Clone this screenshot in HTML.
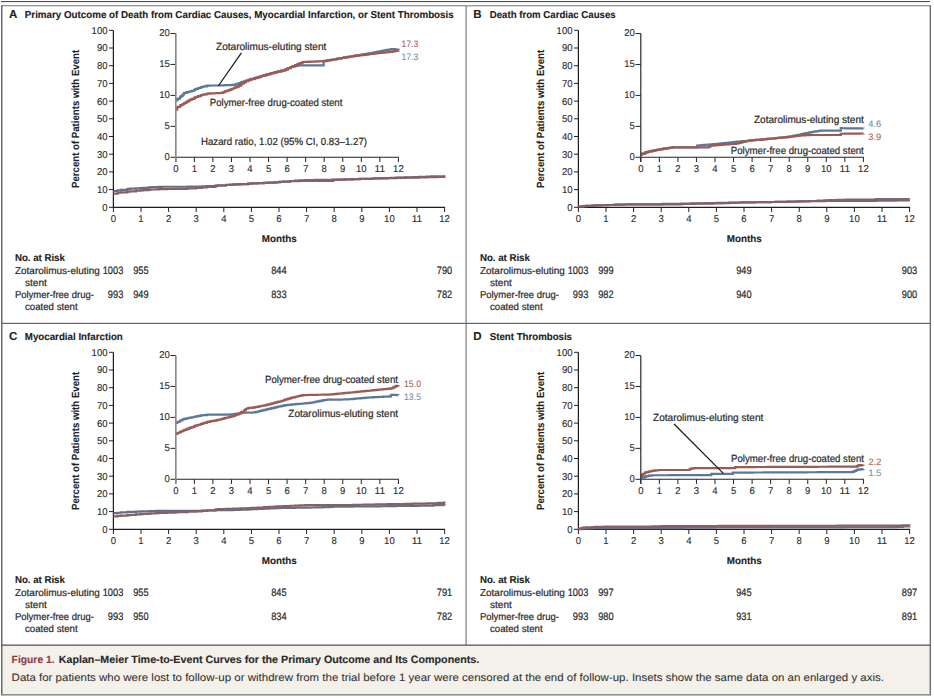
<!DOCTYPE html>
<html><head><meta charset="utf-8"><title>Figure 1</title>
<style>html,body{margin:0;padding:0;background:#fff;width:934px;height:699px;overflow:hidden;position:relative}</style>
</head><body>
<svg width="934" height="699" viewBox="0 0 934 699" style="position:absolute;left:0;top:0;font-family:'Liberation Sans', sans-serif" text-rendering="geometricPrecision">
<rect x="0.00" y="0.00" width="934.00" height="699.00" fill="#ffffff"/>
<rect x="2.00" y="645.50" width="928.00" height="48.80" fill="#f4f0ea"/>
<rect x="1.00" y="1.00" width="929.00" height="1.10" fill="#4a4a4a"/>
<rect x="1.00" y="5.00" width="930.00" height="1.40" fill="#9a9a9a"/>
<rect x="1.00" y="5.50" width="1.50" height="689.50" fill="#6a6a6a"/>
<rect x="929.60" y="5.50" width="1.40" height="689.50" fill="#6e6e6e"/>
<rect x="1.00" y="694.20" width="930.00" height="1.30" fill="#777777"/>
<rect x="465.50" y="6.00" width="1.20" height="639.00" fill="#7a7a7a"/>
<rect x="2.00" y="322.80" width="928.00" height="1.20" fill="#666666"/>
<rect x="2.00" y="644.50" width="928.00" height="1.30" fill="#555555"/>
<text x="9.00" y="17.60" font-size="11.5" font-weight="bold" text-anchor="start" fill="#222" stroke="#222" stroke-width="0.12">A</text>
<text x="24.80" y="17.60" font-size="10.1" font-weight="bold" text-anchor="start" fill="#222" stroke="#222" stroke-width="0.12" textLength="428.90" lengthAdjust="spacingAndGlyphs">Primary Outcome of Death from Cardiac Causes, Myocardial Infarction, or Stent Thrombosis</text>
<line x1="113.40" y1="30.30" x2="113.40" y2="207.80" stroke="#1e1e1e" stroke-width="1.25"/>
<line x1="112.90" y1="207.30" x2="445.10" y2="207.30" stroke="#1e1e1e" stroke-width="1.25"/>
<line x1="109.00" y1="207.30" x2="113.40" y2="207.30" stroke="#222" stroke-width="1.0"/>
<text x="107.50" y="210.75" font-size="9.9" font-weight="normal" text-anchor="end" fill="#2b2b2b" stroke="#2b2b2b" stroke-width="0.12" textLength="5.30" lengthAdjust="spacingAndGlyphs">0</text>
<line x1="109.00" y1="189.60" x2="113.40" y2="189.60" stroke="#222" stroke-width="1.0"/>
<text x="107.50" y="193.05" font-size="9.9" font-weight="normal" text-anchor="end" fill="#2b2b2b" stroke="#2b2b2b" stroke-width="0.12" textLength="10.60" lengthAdjust="spacingAndGlyphs">10</text>
<line x1="109.00" y1="171.90" x2="113.40" y2="171.90" stroke="#222" stroke-width="1.0"/>
<text x="107.50" y="175.35" font-size="9.9" font-weight="normal" text-anchor="end" fill="#2b2b2b" stroke="#2b2b2b" stroke-width="0.12" textLength="10.60" lengthAdjust="spacingAndGlyphs">20</text>
<line x1="109.00" y1="154.20" x2="113.40" y2="154.20" stroke="#222" stroke-width="1.0"/>
<text x="107.50" y="157.65" font-size="9.9" font-weight="normal" text-anchor="end" fill="#2b2b2b" stroke="#2b2b2b" stroke-width="0.12" textLength="10.60" lengthAdjust="spacingAndGlyphs">30</text>
<line x1="109.00" y1="136.50" x2="113.40" y2="136.50" stroke="#222" stroke-width="1.0"/>
<text x="107.50" y="139.95" font-size="9.9" font-weight="normal" text-anchor="end" fill="#2b2b2b" stroke="#2b2b2b" stroke-width="0.12" textLength="10.60" lengthAdjust="spacingAndGlyphs">40</text>
<line x1="109.00" y1="118.80" x2="113.40" y2="118.80" stroke="#222" stroke-width="1.0"/>
<text x="107.50" y="122.25" font-size="9.9" font-weight="normal" text-anchor="end" fill="#2b2b2b" stroke="#2b2b2b" stroke-width="0.12" textLength="10.60" lengthAdjust="spacingAndGlyphs">50</text>
<line x1="109.00" y1="101.10" x2="113.40" y2="101.10" stroke="#222" stroke-width="1.0"/>
<text x="107.50" y="104.55" font-size="9.9" font-weight="normal" text-anchor="end" fill="#2b2b2b" stroke="#2b2b2b" stroke-width="0.12" textLength="10.60" lengthAdjust="spacingAndGlyphs">60</text>
<line x1="109.00" y1="83.40" x2="113.40" y2="83.40" stroke="#222" stroke-width="1.0"/>
<text x="107.50" y="86.85" font-size="9.9" font-weight="normal" text-anchor="end" fill="#2b2b2b" stroke="#2b2b2b" stroke-width="0.12" textLength="10.60" lengthAdjust="spacingAndGlyphs">70</text>
<line x1="109.00" y1="65.70" x2="113.40" y2="65.70" stroke="#222" stroke-width="1.0"/>
<text x="107.50" y="69.15" font-size="9.9" font-weight="normal" text-anchor="end" fill="#2b2b2b" stroke="#2b2b2b" stroke-width="0.12" textLength="10.60" lengthAdjust="spacingAndGlyphs">80</text>
<line x1="109.00" y1="48.00" x2="113.40" y2="48.00" stroke="#222" stroke-width="1.0"/>
<text x="107.50" y="51.45" font-size="9.9" font-weight="normal" text-anchor="end" fill="#2b2b2b" stroke="#2b2b2b" stroke-width="0.12" textLength="10.60" lengthAdjust="spacingAndGlyphs">90</text>
<line x1="109.00" y1="30.30" x2="113.40" y2="30.30" stroke="#222" stroke-width="1.0"/>
<text x="107.50" y="33.75" font-size="9.9" font-weight="normal" text-anchor="end" fill="#2b2b2b" stroke="#2b2b2b" stroke-width="0.12" textLength="15.90" lengthAdjust="spacingAndGlyphs">100</text>
<line x1="113.40" y1="207.30" x2="113.40" y2="212.00" stroke="#222" stroke-width="1.0"/>
<text x="113.40" y="221.90" font-size="9.9" font-weight="normal" text-anchor="middle" fill="#2b2b2b" stroke="#2b2b2b" stroke-width="0.12" textLength="5.30" lengthAdjust="spacingAndGlyphs">0</text>
<line x1="141.00" y1="207.30" x2="141.00" y2="212.00" stroke="#222" stroke-width="1.0"/>
<text x="141.00" y="221.90" font-size="9.9" font-weight="normal" text-anchor="middle" fill="#2b2b2b" stroke="#2b2b2b" stroke-width="0.12" textLength="5.30" lengthAdjust="spacingAndGlyphs">1</text>
<line x1="168.60" y1="207.30" x2="168.60" y2="212.00" stroke="#222" stroke-width="1.0"/>
<text x="168.60" y="221.90" font-size="9.9" font-weight="normal" text-anchor="middle" fill="#2b2b2b" stroke="#2b2b2b" stroke-width="0.12" textLength="5.30" lengthAdjust="spacingAndGlyphs">2</text>
<line x1="196.20" y1="207.30" x2="196.20" y2="212.00" stroke="#222" stroke-width="1.0"/>
<text x="196.20" y="221.90" font-size="9.9" font-weight="normal" text-anchor="middle" fill="#2b2b2b" stroke="#2b2b2b" stroke-width="0.12" textLength="5.30" lengthAdjust="spacingAndGlyphs">3</text>
<line x1="223.80" y1="207.30" x2="223.80" y2="212.00" stroke="#222" stroke-width="1.0"/>
<text x="223.80" y="221.90" font-size="9.9" font-weight="normal" text-anchor="middle" fill="#2b2b2b" stroke="#2b2b2b" stroke-width="0.12" textLength="5.30" lengthAdjust="spacingAndGlyphs">4</text>
<line x1="251.40" y1="207.30" x2="251.40" y2="212.00" stroke="#222" stroke-width="1.0"/>
<text x="251.40" y="221.90" font-size="9.9" font-weight="normal" text-anchor="middle" fill="#2b2b2b" stroke="#2b2b2b" stroke-width="0.12" textLength="5.30" lengthAdjust="spacingAndGlyphs">5</text>
<line x1="279.00" y1="207.30" x2="279.00" y2="212.00" stroke="#222" stroke-width="1.0"/>
<text x="279.00" y="221.90" font-size="9.9" font-weight="normal" text-anchor="middle" fill="#2b2b2b" stroke="#2b2b2b" stroke-width="0.12" textLength="5.30" lengthAdjust="spacingAndGlyphs">6</text>
<line x1="306.60" y1="207.30" x2="306.60" y2="212.00" stroke="#222" stroke-width="1.0"/>
<text x="306.60" y="221.90" font-size="9.9" font-weight="normal" text-anchor="middle" fill="#2b2b2b" stroke="#2b2b2b" stroke-width="0.12" textLength="5.30" lengthAdjust="spacingAndGlyphs">7</text>
<line x1="334.20" y1="207.30" x2="334.20" y2="212.00" stroke="#222" stroke-width="1.0"/>
<text x="334.20" y="221.90" font-size="9.9" font-weight="normal" text-anchor="middle" fill="#2b2b2b" stroke="#2b2b2b" stroke-width="0.12" textLength="5.30" lengthAdjust="spacingAndGlyphs">8</text>
<line x1="361.80" y1="207.30" x2="361.80" y2="212.00" stroke="#222" stroke-width="1.0"/>
<text x="361.80" y="221.90" font-size="9.9" font-weight="normal" text-anchor="middle" fill="#2b2b2b" stroke="#2b2b2b" stroke-width="0.12" textLength="5.30" lengthAdjust="spacingAndGlyphs">9</text>
<line x1="389.40" y1="207.30" x2="389.40" y2="212.00" stroke="#222" stroke-width="1.0"/>
<text x="389.40" y="221.90" font-size="9.9" font-weight="normal" text-anchor="middle" fill="#2b2b2b" stroke="#2b2b2b" stroke-width="0.12" textLength="10.60" lengthAdjust="spacingAndGlyphs">10</text>
<line x1="417.00" y1="207.30" x2="417.00" y2="212.00" stroke="#222" stroke-width="1.0"/>
<text x="417.00" y="221.90" font-size="9.9" font-weight="normal" text-anchor="middle" fill="#2b2b2b" stroke="#2b2b2b" stroke-width="0.12" textLength="10.60" lengthAdjust="spacingAndGlyphs">11</text>
<line x1="444.60" y1="207.30" x2="444.60" y2="212.00" stroke="#222" stroke-width="1.0"/>
<text x="444.60" y="221.90" font-size="9.9" font-weight="normal" text-anchor="middle" fill="#2b2b2b" stroke="#2b2b2b" stroke-width="0.12" textLength="10.60" lengthAdjust="spacingAndGlyphs">12</text>
<text x="0" y="0" font-size="10.4" font-weight="bold" fill="#222" stroke="#222" stroke-width="0.1" text-anchor="middle" textLength="138" lengthAdjust="spacingAndGlyphs" transform="translate(79.00,118.90) rotate(-90)">Percent of Patients with Event</text>
<text x="261.70" y="242.20" font-size="10" font-weight="bold" text-anchor="start" fill="#222" stroke="#222" stroke-width="0.12" textLength="35.00" lengthAdjust="spacingAndGlyphs">Months</text>
<path d="M113.40,191.02 H117.75 V190.34 H120.96 V189.78 H127.48 V188.82 H130.17 V188.68 H135.93 V188.38 H140.56 V188.01 H143.15 V187.79 H148.72 V187.32 H151.17 V187.21 H156.25 V187.00 H158.92 V186.88 H161.73 V186.77 H166.75 V186.77 H174.44 V186.77 H177.47 V186.76 H181.15 V186.74 H187.52 V186.69 H196.00 V186.62 H202.03 V186.45 H206.87 V186.09 H215.54 V185.53 H218.06 V185.37 H225.96 V184.88 H230.08 V184.65 H233.25 V184.47 H236.23 V184.30 H240.49 V184.07 H248.10 V183.64 H251.50 V183.47 H257.56 V183.18 H264.00 V182.87 H268.68 V182.64 H274.52 V182.36 H277.14 V182.15 H279.74 V181.93 H283.31 V181.62 H290.03 V181.19 H295.07 V181.03 H299.36 V181.02 H305.45 V181.02 H310.66 V181.02 H314.85 V181.02 H322.32 V181.02 H329.16 V181.02 H332.98 V181.02 H333.37 V179.87 H339.00 V179.65 H344.68 V179.44 H352.69 V179.16 H359.73 V178.92 H363.84 V178.78 H372.54 V178.49 H375.53 V178.39 H380.51 V178.22 H387.73 V177.99 H390.95 V177.88 H396.40 V177.70 H398.86 V177.62 H405.50 V177.41 H412.77 V177.16 H418.77 V176.93 H426.78 V176.63 H431.07 V176.46 H437.88 V176.41 H444.03 V176.58 H444.60 V176.59" fill="none" stroke="#6a6e84" stroke-width="2.2" stroke-linejoin="miter" stroke-linecap="butt"/>
<path d="M113.40,193.67 H117.75 V192.76 H120.96 V192.39 H127.48 V191.65 H130.17 V191.35 H135.93 V190.70 H140.56 V190.31 H143.15 V190.09 H148.72 V189.62 H151.17 V189.51 H156.25 V189.30 H158.92 V189.19 H161.73 V189.07 H166.75 V189.02 H174.44 V188.95 H177.47 V188.92 H181.15 V188.86 H187.52 V188.42 H196.00 V187.79 H202.03 V187.29 H206.87 V186.85 H215.54 V185.79 H218.06 V185.48 H225.96 V185.00 H230.08 V184.77 H233.25 V184.58 H236.23 V184.39 H240.49 V184.12 H248.10 V183.65 H251.50 V183.47 H257.56 V183.18 H264.00 V182.87 H268.68 V182.64 H274.52 V182.36 H277.14 V182.13 H279.74 V181.89 H283.31 V181.56 H290.03 V180.99 H295.07 V180.61 H299.36 V180.29 H305.45 V180.02 H310.66 V179.98 H314.85 V179.95 H322.32 V179.89 H329.16 V179.80 H332.98 V179.71 H339.00 V179.59 H344.68 V179.44 H352.69 V179.16 H359.73 V178.92 H363.84 V178.78 H372.54 V178.49 H375.53 V178.41 H380.51 V178.29 H387.73 V178.12 H390.95 V178.04 H396.40 V177.92 H398.86 V177.86 H405.50 V177.70 H412.77 V177.54 H418.77 V177.42 H426.78 V177.27 H431.07 V177.19 H437.88 V176.98 H444.03 V176.70 H444.60 V176.68" fill="none" stroke="#866163" stroke-width="2.2" stroke-linejoin="miter" stroke-linecap="butt"/>
<line x1="170.50" y1="157.30" x2="175.80" y2="157.30" stroke="#222" stroke-width="1.0"/>
<text x="169.80" y="159.80" font-size="9.9" font-weight="normal" text-anchor="end" fill="#2b2b2b" stroke="#2b2b2b" stroke-width="0.12" textLength="5.30" lengthAdjust="spacingAndGlyphs">0</text>
<line x1="170.50" y1="126.35" x2="175.80" y2="126.35" stroke="#222" stroke-width="1.0"/>
<text x="169.80" y="128.85" font-size="9.9" font-weight="normal" text-anchor="end" fill="#2b2b2b" stroke="#2b2b2b" stroke-width="0.12" textLength="5.30" lengthAdjust="spacingAndGlyphs">5</text>
<line x1="170.50" y1="95.40" x2="175.80" y2="95.40" stroke="#222" stroke-width="1.0"/>
<text x="169.80" y="97.90" font-size="9.9" font-weight="normal" text-anchor="end" fill="#2b2b2b" stroke="#2b2b2b" stroke-width="0.12" textLength="10.60" lengthAdjust="spacingAndGlyphs">10</text>
<line x1="170.50" y1="64.45" x2="175.80" y2="64.45" stroke="#222" stroke-width="1.0"/>
<text x="169.80" y="66.95" font-size="9.9" font-weight="normal" text-anchor="end" fill="#2b2b2b" stroke="#2b2b2b" stroke-width="0.12" textLength="10.60" lengthAdjust="spacingAndGlyphs">15</text>
<line x1="170.50" y1="33.50" x2="175.80" y2="33.50" stroke="#222" stroke-width="1.0"/>
<text x="169.80" y="36.00" font-size="9.9" font-weight="normal" text-anchor="end" fill="#2b2b2b" stroke="#2b2b2b" stroke-width="0.12" textLength="10.60" lengthAdjust="spacingAndGlyphs">20</text>
<line x1="175.80" y1="157.30" x2="175.80" y2="162.00" stroke="#222" stroke-width="1.0"/>
<text x="175.80" y="171.90" font-size="9.9" font-weight="normal" text-anchor="middle" fill="#2b2b2b" stroke="#2b2b2b" stroke-width="0.12" textLength="5.30" lengthAdjust="spacingAndGlyphs">0</text>
<line x1="194.35" y1="157.30" x2="194.35" y2="162.00" stroke="#222" stroke-width="1.0"/>
<text x="194.35" y="171.90" font-size="9.9" font-weight="normal" text-anchor="middle" fill="#2b2b2b" stroke="#2b2b2b" stroke-width="0.12" textLength="5.30" lengthAdjust="spacingAndGlyphs">1</text>
<line x1="212.90" y1="157.30" x2="212.90" y2="162.00" stroke="#222" stroke-width="1.0"/>
<text x="212.90" y="171.90" font-size="9.9" font-weight="normal" text-anchor="middle" fill="#2b2b2b" stroke="#2b2b2b" stroke-width="0.12" textLength="5.30" lengthAdjust="spacingAndGlyphs">2</text>
<line x1="231.45" y1="157.30" x2="231.45" y2="162.00" stroke="#222" stroke-width="1.0"/>
<text x="231.45" y="171.90" font-size="9.9" font-weight="normal" text-anchor="middle" fill="#2b2b2b" stroke="#2b2b2b" stroke-width="0.12" textLength="5.30" lengthAdjust="spacingAndGlyphs">3</text>
<line x1="250.00" y1="157.30" x2="250.00" y2="162.00" stroke="#222" stroke-width="1.0"/>
<text x="250.00" y="171.90" font-size="9.9" font-weight="normal" text-anchor="middle" fill="#2b2b2b" stroke="#2b2b2b" stroke-width="0.12" textLength="5.30" lengthAdjust="spacingAndGlyphs">4</text>
<line x1="268.55" y1="157.30" x2="268.55" y2="162.00" stroke="#222" stroke-width="1.0"/>
<text x="268.55" y="171.90" font-size="9.9" font-weight="normal" text-anchor="middle" fill="#2b2b2b" stroke="#2b2b2b" stroke-width="0.12" textLength="5.30" lengthAdjust="spacingAndGlyphs">5</text>
<line x1="287.10" y1="157.30" x2="287.10" y2="162.00" stroke="#222" stroke-width="1.0"/>
<text x="287.10" y="171.90" font-size="9.9" font-weight="normal" text-anchor="middle" fill="#2b2b2b" stroke="#2b2b2b" stroke-width="0.12" textLength="5.30" lengthAdjust="spacingAndGlyphs">6</text>
<line x1="305.65" y1="157.30" x2="305.65" y2="162.00" stroke="#222" stroke-width="1.0"/>
<text x="305.65" y="171.90" font-size="9.9" font-weight="normal" text-anchor="middle" fill="#2b2b2b" stroke="#2b2b2b" stroke-width="0.12" textLength="5.30" lengthAdjust="spacingAndGlyphs">7</text>
<line x1="324.20" y1="157.30" x2="324.20" y2="162.00" stroke="#222" stroke-width="1.0"/>
<text x="324.20" y="171.90" font-size="9.9" font-weight="normal" text-anchor="middle" fill="#2b2b2b" stroke="#2b2b2b" stroke-width="0.12" textLength="5.30" lengthAdjust="spacingAndGlyphs">8</text>
<line x1="342.75" y1="157.30" x2="342.75" y2="162.00" stroke="#222" stroke-width="1.0"/>
<text x="342.75" y="171.90" font-size="9.9" font-weight="normal" text-anchor="middle" fill="#2b2b2b" stroke="#2b2b2b" stroke-width="0.12" textLength="5.30" lengthAdjust="spacingAndGlyphs">9</text>
<line x1="361.30" y1="157.30" x2="361.30" y2="162.00" stroke="#222" stroke-width="1.0"/>
<text x="361.30" y="171.90" font-size="9.9" font-weight="normal" text-anchor="middle" fill="#2b2b2b" stroke="#2b2b2b" stroke-width="0.12" textLength="10.60" lengthAdjust="spacingAndGlyphs">10</text>
<line x1="379.85" y1="157.30" x2="379.85" y2="162.00" stroke="#222" stroke-width="1.0"/>
<text x="379.85" y="171.90" font-size="9.9" font-weight="normal" text-anchor="middle" fill="#2b2b2b" stroke="#2b2b2b" stroke-width="0.12" textLength="10.60" lengthAdjust="spacingAndGlyphs">11</text>
<line x1="398.40" y1="157.30" x2="398.40" y2="162.00" stroke="#222" stroke-width="1.0"/>
<text x="398.40" y="171.90" font-size="9.9" font-weight="normal" text-anchor="middle" fill="#2b2b2b" stroke="#2b2b2b" stroke-width="0.12" textLength="10.60" lengthAdjust="spacingAndGlyphs">12</text>
<line x1="175.30" y1="157.30" x2="398.90" y2="157.30" stroke="#222" stroke-width="1.1"/>
<path d="M175.80,100.35 H177.12 V99.38 H178.09 V98.56 H180.06 V96.78 H180.87 V96.05 H182.61 V94.48 H184.01 V93.21 H184.80 V92.80 H186.48 V92.34 H187.22 V92.14 H188.76 V91.73 H189.57 V91.51 H190.42 V91.28 H191.94 V90.74 H194.26 V89.73 H195.18 V89.33 H196.29 V88.85 H198.22 V88.01 H200.78 V87.12 H202.61 V86.73 H204.07 V86.41 H206.69 V85.84 H207.45 V85.67 H209.84 V85.50 H211.09 V85.50 H212.05 V85.50 H212.95 V85.50 H214.24 V85.50 H216.54 V85.50 H217.57 V85.50 H219.40 V85.46 H221.35 V85.38 H222.76 V85.33 H224.53 V85.26 H225.32 V85.22 H226.11 V85.19 H227.19 V85.15 H229.22 V85.07 H230.75 V85.01 H232.04 V84.96 H233.88 V84.88 H235.46 V84.33 H236.73 V83.84 H238.99 V82.98 H241.05 V82.29 H242.21 V81.90 H244.03 V81.30 H245.75 V80.72 H248.17 V79.92 H250.30 V79.22 H251.55 V78.86 H254.18 V78.09 H255.08 V77.83 H256.59 V77.39 H258.77 V76.76 H259.74 V76.48 H261.39 V76.00 H262.14 V75.78 H264.14 V75.20 H266.34 V74.56 H268.16 V74.08 H270.58 V73.47 H271.88 V73.15 H273.94 V72.63 H275.80 V72.16 H277.63 V71.70 H279.21 V71.30 H281.56 V70.71 H284.12 V70.07 H285.74 V69.39 H287.73 V68.50 H288.52 V68.15 H290.60 V67.23 H292.56 V66.35 H295.22 V65.88 H297.53 V65.49 H298.77 V65.38 H300.21 V65.38 H302.22 V65.38 H302.93 V65.38 H304.53 V65.38 H305.53 V65.38 H306.43 V65.38 H307.22 V65.38 H309.42 V65.38 H310.35 V65.38 H311.52 V65.38 H312.97 V65.38 H315.38 V65.38 H316.21 V65.38 H317.78 V65.38 H319.55 V65.38 H321.98 V65.38 H323.64 V61.36 H324.29 V61.22 H326.69 V60.74 H327.92 V60.49 H329.42 V60.19 H330.80 V59.93 H333.24 V59.50 H335.83 V59.04 H336.80 V58.87 H337.82 V58.69 H338.95 V58.49 H340.09 V58.29 H341.73 V58.00 H343.57 V57.67 H344.77 V57.46 H345.45 V57.34 H346.95 V57.07 H348.36 V56.82 H350.16 V56.50 H352.74 V56.06 H354.79 V55.71 H356.49 V55.42 H358.40 V55.10 H360.42 V54.75 H361.19 V54.62 H363.66 V54.20 H365.89 V53.82 H368.31 V53.40 H370.58 V53.02 H372.03 V52.77 H373.50 V52.52 H374.38 V52.37 H376.32 V52.04 H377.11 V51.88 H377.91 V51.72 H379.00 V51.50 H379.99 V51.31 H381.34 V51.04 H382.11 V50.88 H382.78 V50.75 H383.75 V50.56 H384.62 V50.39 H386.02 V50.11 H386.74 V49.97 H389.16 V49.48 H391.06 V49.11 H392.02 V49.02 H393.19 V49.18 H394.56 V49.37 H395.95 V49.56 H396.87 V49.69 H398.40 V49.90" fill="none" stroke="#5a789a" stroke-width="2.2" stroke-linejoin="miter" stroke-linecap="butt"/>
<path d="M175.80,109.64 H177.12 V107.43 H178.09 V106.84 H180.06 V105.65 H180.87 V105.15 H182.61 V104.10 H184.01 V103.28 H184.80 V102.83 H186.48 V101.85 H187.22 V101.42 H188.76 V100.53 H189.57 V100.06 H190.42 V99.57 H191.94 V98.79 H194.26 V97.78 H195.18 V97.38 H196.29 V96.90 H198.22 V96.06 H200.78 V95.17 H202.61 V94.77 H204.07 V94.46 H206.69 V93.88 H207.45 V93.72 H209.84 V93.47 H211.09 V93.41 H212.05 V93.36 H212.95 V93.32 H214.24 V93.25 H216.54 V93.14 H217.57 V93.09 H219.40 V93.00 H221.35 V92.82 H222.76 V92.31 H224.53 V91.67 H225.32 V91.38 H226.11 V91.09 H227.19 V90.70 H229.22 V89.96 H230.75 V89.33 H232.04 V88.76 H233.88 V87.96 H235.46 V87.28 H236.73 V86.72 H238.99 V85.57 H241.05 V84.24 H242.21 V83.51 H244.03 V82.34 H245.75 V81.24 H248.17 V80.19 H250.30 V79.61 H251.55 V79.27 H254.18 V78.54 H255.08 V78.24 H256.59 V77.75 H258.77 V77.05 H259.74 V76.73 H261.39 V76.20 H262.14 V75.95 H264.14 V75.30 H266.34 V74.59 H268.16 V74.08 H270.58 V73.47 H271.88 V73.15 H273.94 V72.63 H275.80 V72.16 H277.63 V71.70 H279.21 V71.30 H281.56 V70.71 H284.12 V70.07 H285.74 V69.34 H287.73 V68.37 H288.52 V67.99 H290.60 V66.99 H292.56 V66.05 H295.22 V65.01 H297.53 V64.11 H298.77 V63.63 H300.21 V63.07 H302.22 V62.30 H302.93 V62.02 H304.53 V61.92 H305.53 V61.88 H306.43 V61.84 H307.22 V61.81 H309.42 V61.72 H310.35 V61.68 H311.52 V61.64 H312.97 V61.58 H315.38 V61.48 H316.21 V61.45 H317.78 V61.39 H319.55 V61.25 H321.98 V60.98 H324.29 V60.73 H326.69 V60.46 H327.92 V60.32 H329.42 V60.16 H330.80 V59.93 H333.24 V59.50 H335.83 V59.04 H336.80 V58.87 H337.82 V58.69 H338.95 V58.49 H340.09 V58.29 H341.73 V58.00 H343.57 V57.67 H344.77 V57.46 H345.45 V57.34 H346.95 V57.07 H348.36 V56.82 H350.16 V56.50 H352.74 V56.16 H354.79 V55.91 H356.49 V55.70 H358.40 V55.47 H360.42 V55.22 H361.19 V55.13 H363.66 V54.83 H365.89 V54.56 H368.31 V54.26 H370.58 V53.99 H372.03 V53.81 H373.50 V53.63 H374.38 V53.52 H376.32 V53.29 H377.11 V53.21 H377.91 V53.13 H379.00 V53.02 H379.99 V52.93 H381.34 V52.79 H382.11 V52.71 H382.78 V52.65 H383.75 V52.55 H384.62 V52.47 H386.02 V52.33 H386.74 V52.26 H389.16 V52.02 H391.06 V51.83 H392.02 V51.69 H393.19 V51.42 H394.56 V51.10 H395.95 V50.78 H396.87 V50.57 H398.40 V50.21" fill="none" stroke="#9c5a52" stroke-width="2.2" stroke-linejoin="miter" stroke-linecap="butt"/>
<line x1="175.80" y1="33.50" x2="175.80" y2="161.80" stroke="#8a8a8a" stroke-width="1.7"/>
<text x="216.00" y="50.00" font-size="10.4" font-weight="normal" text-anchor="start" fill="#2b2b2b" stroke="#2b2b2b" stroke-width="0.22" textLength="110.30" lengthAdjust="spacingAndGlyphs">Zotarolimus-eluting stent</text>
<line x1="241.40" y1="52.90" x2="218.30" y2="86.00" stroke="#1a1a1a" stroke-width="1.25"/>
<text x="209.80" y="105.90" font-size="10.4" font-weight="normal" text-anchor="start" fill="#2b2b2b" stroke="#2b2b2b" stroke-width="0.22" textLength="132.60" lengthAdjust="spacingAndGlyphs">Polymer-free drug-coated stent</text>
<text x="201.00" y="144.80" font-size="10.4" font-weight="normal" text-anchor="start" fill="#2b2b2b" stroke="#2b2b2b" stroke-width="0.22" textLength="166.00" lengthAdjust="spacingAndGlyphs">Hazard ratio, 1.02 (95% CI, 0.83–1.27)</text>
<text x="401.40" y="46.90" font-size="9.4" font-weight="normal" text-anchor="start" fill="#a8665c" stroke="#a8665c" stroke-width="0.1" textLength="17.00" lengthAdjust="spacingAndGlyphs">17.3</text>
<text x="401.40" y="60.10" font-size="9.4" font-weight="normal" text-anchor="start" fill="#7590a6" stroke="#7590a6" stroke-width="0.1" textLength="17.00" lengthAdjust="spacingAndGlyphs">17.3</text>
<text x="14.90" y="261.00" font-size="10" font-weight="bold" text-anchor="start" fill="#222" stroke="#222" stroke-width="0.12" textLength="50.00" lengthAdjust="spacingAndGlyphs">No. at Risk</text>
<text x="14.90" y="274.40" font-size="10" font-weight="normal" text-anchor="start" fill="#2b2b2b" stroke="#2b2b2b" stroke-width="0.22" textLength="85.00" lengthAdjust="spacingAndGlyphs">Zotarolimus-eluting</text>
<text x="25.00" y="285.70" font-size="10" font-weight="normal" text-anchor="start" fill="#2b2b2b" stroke="#2b2b2b" stroke-width="0.22" textLength="21.80" lengthAdjust="spacingAndGlyphs">stent</text>
<text x="14.90" y="298.30" font-size="10" font-weight="normal" text-anchor="start" fill="#2b2b2b" stroke="#2b2b2b" stroke-width="0.22" textLength="79.00" lengthAdjust="spacingAndGlyphs">Polymer-free drug-</text>
<text x="25.00" y="309.80" font-size="10" font-weight="normal" text-anchor="start" fill="#2b2b2b" stroke="#2b2b2b" stroke-width="0.22" textLength="52.60" lengthAdjust="spacingAndGlyphs">coated stent</text>
<text x="123.30" y="274.40" font-size="10.8" font-weight="normal" text-anchor="end" fill="#2b2b2b" stroke="#2b2b2b" stroke-width="0.22" textLength="20.60" lengthAdjust="spacingAndGlyphs">1003</text>
<text x="148.60" y="274.40" font-size="10.8" font-weight="normal" text-anchor="end" fill="#2b2b2b" stroke="#2b2b2b" stroke-width="0.22" textLength="15.45" lengthAdjust="spacingAndGlyphs">955</text>
<text x="286.60" y="274.40" font-size="10.8" font-weight="normal" text-anchor="end" fill="#2b2b2b" stroke="#2b2b2b" stroke-width="0.22" textLength="15.45" lengthAdjust="spacingAndGlyphs">844</text>
<text x="452.20" y="274.40" font-size="10.8" font-weight="normal" text-anchor="end" fill="#2b2b2b" stroke="#2b2b2b" stroke-width="0.22" textLength="15.45" lengthAdjust="spacingAndGlyphs">790</text>
<text x="123.30" y="298.30" font-size="10.8" font-weight="normal" text-anchor="end" fill="#2b2b2b" stroke="#2b2b2b" stroke-width="0.22" textLength="15.45" lengthAdjust="spacingAndGlyphs">993</text>
<text x="148.60" y="298.30" font-size="10.8" font-weight="normal" text-anchor="end" fill="#2b2b2b" stroke="#2b2b2b" stroke-width="0.22" textLength="15.45" lengthAdjust="spacingAndGlyphs">949</text>
<text x="286.60" y="298.30" font-size="10.8" font-weight="normal" text-anchor="end" fill="#2b2b2b" stroke="#2b2b2b" stroke-width="0.22" textLength="15.45" lengthAdjust="spacingAndGlyphs">833</text>
<text x="452.20" y="298.30" font-size="10.8" font-weight="normal" text-anchor="end" fill="#2b2b2b" stroke="#2b2b2b" stroke-width="0.22" textLength="15.45" lengthAdjust="spacingAndGlyphs">782</text>
<text x="473.20" y="17.60" font-size="11.5" font-weight="bold" text-anchor="start" fill="#222" stroke="#222" stroke-width="0.12">B</text>
<text x="489.80" y="17.60" font-size="10.1" font-weight="bold" text-anchor="start" fill="#222" stroke="#222" stroke-width="0.12" textLength="125.80" lengthAdjust="spacingAndGlyphs">Death from Cardiac Causes</text>
<line x1="578.40" y1="30.30" x2="578.40" y2="207.80" stroke="#1e1e1e" stroke-width="1.25"/>
<line x1="577.90" y1="207.30" x2="910.10" y2="207.30" stroke="#1e1e1e" stroke-width="1.25"/>
<line x1="574.00" y1="207.30" x2="578.40" y2="207.30" stroke="#222" stroke-width="1.0"/>
<text x="572.50" y="210.75" font-size="9.9" font-weight="normal" text-anchor="end" fill="#2b2b2b" stroke="#2b2b2b" stroke-width="0.12" textLength="5.30" lengthAdjust="spacingAndGlyphs">0</text>
<line x1="574.00" y1="189.60" x2="578.40" y2="189.60" stroke="#222" stroke-width="1.0"/>
<text x="572.50" y="193.05" font-size="9.9" font-weight="normal" text-anchor="end" fill="#2b2b2b" stroke="#2b2b2b" stroke-width="0.12" textLength="10.60" lengthAdjust="spacingAndGlyphs">10</text>
<line x1="574.00" y1="171.90" x2="578.40" y2="171.90" stroke="#222" stroke-width="1.0"/>
<text x="572.50" y="175.35" font-size="9.9" font-weight="normal" text-anchor="end" fill="#2b2b2b" stroke="#2b2b2b" stroke-width="0.12" textLength="10.60" lengthAdjust="spacingAndGlyphs">20</text>
<line x1="574.00" y1="154.20" x2="578.40" y2="154.20" stroke="#222" stroke-width="1.0"/>
<text x="572.50" y="157.65" font-size="9.9" font-weight="normal" text-anchor="end" fill="#2b2b2b" stroke="#2b2b2b" stroke-width="0.12" textLength="10.60" lengthAdjust="spacingAndGlyphs">30</text>
<line x1="574.00" y1="136.50" x2="578.40" y2="136.50" stroke="#222" stroke-width="1.0"/>
<text x="572.50" y="139.95" font-size="9.9" font-weight="normal" text-anchor="end" fill="#2b2b2b" stroke="#2b2b2b" stroke-width="0.12" textLength="10.60" lengthAdjust="spacingAndGlyphs">40</text>
<line x1="574.00" y1="118.80" x2="578.40" y2="118.80" stroke="#222" stroke-width="1.0"/>
<text x="572.50" y="122.25" font-size="9.9" font-weight="normal" text-anchor="end" fill="#2b2b2b" stroke="#2b2b2b" stroke-width="0.12" textLength="10.60" lengthAdjust="spacingAndGlyphs">50</text>
<line x1="574.00" y1="101.10" x2="578.40" y2="101.10" stroke="#222" stroke-width="1.0"/>
<text x="572.50" y="104.55" font-size="9.9" font-weight="normal" text-anchor="end" fill="#2b2b2b" stroke="#2b2b2b" stroke-width="0.12" textLength="10.60" lengthAdjust="spacingAndGlyphs">60</text>
<line x1="574.00" y1="83.40" x2="578.40" y2="83.40" stroke="#222" stroke-width="1.0"/>
<text x="572.50" y="86.85" font-size="9.9" font-weight="normal" text-anchor="end" fill="#2b2b2b" stroke="#2b2b2b" stroke-width="0.12" textLength="10.60" lengthAdjust="spacingAndGlyphs">70</text>
<line x1="574.00" y1="65.70" x2="578.40" y2="65.70" stroke="#222" stroke-width="1.0"/>
<text x="572.50" y="69.15" font-size="9.9" font-weight="normal" text-anchor="end" fill="#2b2b2b" stroke="#2b2b2b" stroke-width="0.12" textLength="10.60" lengthAdjust="spacingAndGlyphs">80</text>
<line x1="574.00" y1="48.00" x2="578.40" y2="48.00" stroke="#222" stroke-width="1.0"/>
<text x="572.50" y="51.45" font-size="9.9" font-weight="normal" text-anchor="end" fill="#2b2b2b" stroke="#2b2b2b" stroke-width="0.12" textLength="10.60" lengthAdjust="spacingAndGlyphs">90</text>
<line x1="574.00" y1="30.30" x2="578.40" y2="30.30" stroke="#222" stroke-width="1.0"/>
<text x="572.50" y="33.75" font-size="9.9" font-weight="normal" text-anchor="end" fill="#2b2b2b" stroke="#2b2b2b" stroke-width="0.12" textLength="15.90" lengthAdjust="spacingAndGlyphs">100</text>
<line x1="578.40" y1="207.30" x2="578.40" y2="212.00" stroke="#222" stroke-width="1.0"/>
<text x="578.40" y="221.90" font-size="9.9" font-weight="normal" text-anchor="middle" fill="#2b2b2b" stroke="#2b2b2b" stroke-width="0.12" textLength="5.30" lengthAdjust="spacingAndGlyphs">0</text>
<line x1="606.00" y1="207.30" x2="606.00" y2="212.00" stroke="#222" stroke-width="1.0"/>
<text x="606.00" y="221.90" font-size="9.9" font-weight="normal" text-anchor="middle" fill="#2b2b2b" stroke="#2b2b2b" stroke-width="0.12" textLength="5.30" lengthAdjust="spacingAndGlyphs">1</text>
<line x1="633.60" y1="207.30" x2="633.60" y2="212.00" stroke="#222" stroke-width="1.0"/>
<text x="633.60" y="221.90" font-size="9.9" font-weight="normal" text-anchor="middle" fill="#2b2b2b" stroke="#2b2b2b" stroke-width="0.12" textLength="5.30" lengthAdjust="spacingAndGlyphs">2</text>
<line x1="661.20" y1="207.30" x2="661.20" y2="212.00" stroke="#222" stroke-width="1.0"/>
<text x="661.20" y="221.90" font-size="9.9" font-weight="normal" text-anchor="middle" fill="#2b2b2b" stroke="#2b2b2b" stroke-width="0.12" textLength="5.30" lengthAdjust="spacingAndGlyphs">3</text>
<line x1="688.80" y1="207.30" x2="688.80" y2="212.00" stroke="#222" stroke-width="1.0"/>
<text x="688.80" y="221.90" font-size="9.9" font-weight="normal" text-anchor="middle" fill="#2b2b2b" stroke="#2b2b2b" stroke-width="0.12" textLength="5.30" lengthAdjust="spacingAndGlyphs">4</text>
<line x1="716.40" y1="207.30" x2="716.40" y2="212.00" stroke="#222" stroke-width="1.0"/>
<text x="716.40" y="221.90" font-size="9.9" font-weight="normal" text-anchor="middle" fill="#2b2b2b" stroke="#2b2b2b" stroke-width="0.12" textLength="5.30" lengthAdjust="spacingAndGlyphs">5</text>
<line x1="744.00" y1="207.30" x2="744.00" y2="212.00" stroke="#222" stroke-width="1.0"/>
<text x="744.00" y="221.90" font-size="9.9" font-weight="normal" text-anchor="middle" fill="#2b2b2b" stroke="#2b2b2b" stroke-width="0.12" textLength="5.30" lengthAdjust="spacingAndGlyphs">6</text>
<line x1="771.60" y1="207.30" x2="771.60" y2="212.00" stroke="#222" stroke-width="1.0"/>
<text x="771.60" y="221.90" font-size="9.9" font-weight="normal" text-anchor="middle" fill="#2b2b2b" stroke="#2b2b2b" stroke-width="0.12" textLength="5.30" lengthAdjust="spacingAndGlyphs">7</text>
<line x1="799.20" y1="207.30" x2="799.20" y2="212.00" stroke="#222" stroke-width="1.0"/>
<text x="799.20" y="221.90" font-size="9.9" font-weight="normal" text-anchor="middle" fill="#2b2b2b" stroke="#2b2b2b" stroke-width="0.12" textLength="5.30" lengthAdjust="spacingAndGlyphs">8</text>
<line x1="826.80" y1="207.30" x2="826.80" y2="212.00" stroke="#222" stroke-width="1.0"/>
<text x="826.80" y="221.90" font-size="9.9" font-weight="normal" text-anchor="middle" fill="#2b2b2b" stroke="#2b2b2b" stroke-width="0.12" textLength="5.30" lengthAdjust="spacingAndGlyphs">9</text>
<line x1="854.40" y1="207.30" x2="854.40" y2="212.00" stroke="#222" stroke-width="1.0"/>
<text x="854.40" y="221.90" font-size="9.9" font-weight="normal" text-anchor="middle" fill="#2b2b2b" stroke="#2b2b2b" stroke-width="0.12" textLength="10.60" lengthAdjust="spacingAndGlyphs">10</text>
<line x1="882.00" y1="207.30" x2="882.00" y2="212.00" stroke="#222" stroke-width="1.0"/>
<text x="882.00" y="221.90" font-size="9.9" font-weight="normal" text-anchor="middle" fill="#2b2b2b" stroke="#2b2b2b" stroke-width="0.12" textLength="10.60" lengthAdjust="spacingAndGlyphs">11</text>
<line x1="909.60" y1="207.30" x2="909.60" y2="212.00" stroke="#222" stroke-width="1.0"/>
<text x="909.60" y="221.90" font-size="9.9" font-weight="normal" text-anchor="middle" fill="#2b2b2b" stroke="#2b2b2b" stroke-width="0.12" textLength="10.60" lengthAdjust="spacingAndGlyphs">12</text>
<text x="0" y="0" font-size="10.4" font-weight="bold" fill="#222" stroke="#222" stroke-width="0.1" text-anchor="middle" textLength="138" lengthAdjust="spacingAndGlyphs" transform="translate(544.00,118.90) rotate(-90)">Percent of Patients with Event</text>
<text x="726.70" y="242.20" font-size="10" font-weight="bold" text-anchor="start" fill="#222" stroke="#222" stroke-width="0.12" textLength="35.00" lengthAdjust="spacingAndGlyphs">Months</text>
<path d="M578.40,206.50 H582.75 V206.14 H585.96 V205.88 H592.48 V205.58 H595.17 V205.47 H600.93 V205.25 H605.56 V205.08 H608.15 V204.98 H613.72 V204.78 H616.17 V204.72 H621.25 V204.58 H623.92 V204.51 H626.73 V204.47 H631.75 V204.47 H639.44 V204.47 H642.47 V204.47 H646.15 V204.47 H652.52 V204.47 H661.00 V204.47 H662.30 V203.94 H667.03 V203.86 H671.87 V203.78 H680.54 V203.63 H683.06 V203.59 H690.96 V203.46 H695.08 V203.39 H698.25 V203.32 H701.23 V203.26 H705.49 V203.17 H713.10 V203.00 H716.50 V202.93 H722.56 V202.81 H729.00 V202.69 H733.68 V202.61 H739.52 V202.50 H742.14 V202.46 H744.74 V202.42 H748.31 V202.36 H755.03 V202.25 H760.07 V202.16 H764.36 V202.09 H770.45 V201.99 H775.66 V201.88 H779.85 V201.80 H787.32 V201.64 H794.16 V201.50 H797.98 V201.42 H804.00 V201.23 H809.68 V201.00 H817.69 V200.67 H824.73 V200.38 H828.84 V200.22 H837.54 V199.92 H840.53 V199.81 H845.51 V199.69 H852.73 V199.69 H855.95 V199.69 H861.40 V199.69 H863.86 V199.69 H870.50 V199.69 H875.93 V198.98 H877.77 V198.99 H883.77 V199.00 H891.78 V199.02 H896.07 V199.03 H902.88 V199.05 H909.03 V199.07 H909.60 V199.07" fill="none" stroke="#6a6e84" stroke-width="2.2" stroke-linejoin="miter" stroke-linecap="butt"/>
<path d="M578.40,206.50 H582.75 V206.14 H585.96 V205.88 H592.48 V205.58 H595.17 V205.47 H600.93 V205.25 H605.56 V205.08 H608.15 V204.98 H613.72 V204.78 H616.17 V204.72 H621.25 V204.58 H623.92 V204.51 H626.73 V204.47 H631.75 V204.47 H639.44 V204.47 H642.47 V204.47 H646.15 V204.47 H652.52 V204.47 H661.00 V204.47 H667.03 V204.47 H671.87 V204.47 H680.54 V204.12 H683.06 V203.99 H690.96 V203.83 H695.08 V203.75 H698.25 V203.70 H701.23 V203.66 H705.49 V203.60 H713.10 V203.49 H716.50 V203.44 H722.56 V203.25 H729.00 V202.96 H733.68 V202.74 H739.52 V202.50 H742.14 V202.46 H744.74 V202.42 H748.31 V202.36 H755.03 V202.25 H760.07 V202.16 H764.36 V202.09 H770.45 V201.99 H775.66 V201.90 H779.85 V201.82 H787.32 V201.68 H794.16 V201.55 H797.98 V201.46 H804.00 V201.32 H809.68 V201.18 H817.69 V201.05 H824.73 V200.97 H828.84 V200.93 H837.54 V200.93 H840.53 V200.93 H845.51 V200.93 H852.73 V200.93 H855.95 V200.93 H861.40 V200.93 H863.86 V200.93 H870.50 V200.93 H875.93 V200.57 H877.77 V200.57 H883.77 V200.55 H891.78 V200.53 H896.07 V200.52 H902.88 V200.50 H909.03 V200.49 H909.60 V200.49" fill="none" stroke="#866163" stroke-width="2.2" stroke-linejoin="miter" stroke-linecap="butt"/>
<line x1="635.50" y1="157.30" x2="640.80" y2="157.30" stroke="#222" stroke-width="1.0"/>
<text x="634.80" y="159.80" font-size="9.9" font-weight="normal" text-anchor="end" fill="#2b2b2b" stroke="#2b2b2b" stroke-width="0.12" textLength="5.30" lengthAdjust="spacingAndGlyphs">0</text>
<line x1="635.50" y1="126.35" x2="640.80" y2="126.35" stroke="#222" stroke-width="1.0"/>
<text x="634.80" y="128.85" font-size="9.9" font-weight="normal" text-anchor="end" fill="#2b2b2b" stroke="#2b2b2b" stroke-width="0.12" textLength="5.30" lengthAdjust="spacingAndGlyphs">5</text>
<line x1="635.50" y1="95.40" x2="640.80" y2="95.40" stroke="#222" stroke-width="1.0"/>
<text x="634.80" y="97.90" font-size="9.9" font-weight="normal" text-anchor="end" fill="#2b2b2b" stroke="#2b2b2b" stroke-width="0.12" textLength="10.60" lengthAdjust="spacingAndGlyphs">10</text>
<line x1="635.50" y1="64.45" x2="640.80" y2="64.45" stroke="#222" stroke-width="1.0"/>
<text x="634.80" y="66.95" font-size="9.9" font-weight="normal" text-anchor="end" fill="#2b2b2b" stroke="#2b2b2b" stroke-width="0.12" textLength="10.60" lengthAdjust="spacingAndGlyphs">15</text>
<line x1="635.50" y1="33.50" x2="640.80" y2="33.50" stroke="#222" stroke-width="1.0"/>
<text x="634.80" y="36.00" font-size="9.9" font-weight="normal" text-anchor="end" fill="#2b2b2b" stroke="#2b2b2b" stroke-width="0.12" textLength="10.60" lengthAdjust="spacingAndGlyphs">20</text>
<line x1="640.80" y1="157.30" x2="640.80" y2="162.00" stroke="#222" stroke-width="1.0"/>
<text x="640.80" y="171.90" font-size="9.9" font-weight="normal" text-anchor="middle" fill="#2b2b2b" stroke="#2b2b2b" stroke-width="0.12" textLength="5.30" lengthAdjust="spacingAndGlyphs">0</text>
<line x1="659.35" y1="157.30" x2="659.35" y2="162.00" stroke="#222" stroke-width="1.0"/>
<text x="659.35" y="171.90" font-size="9.9" font-weight="normal" text-anchor="middle" fill="#2b2b2b" stroke="#2b2b2b" stroke-width="0.12" textLength="5.30" lengthAdjust="spacingAndGlyphs">1</text>
<line x1="677.90" y1="157.30" x2="677.90" y2="162.00" stroke="#222" stroke-width="1.0"/>
<text x="677.90" y="171.90" font-size="9.9" font-weight="normal" text-anchor="middle" fill="#2b2b2b" stroke="#2b2b2b" stroke-width="0.12" textLength="5.30" lengthAdjust="spacingAndGlyphs">2</text>
<line x1="696.45" y1="157.30" x2="696.45" y2="162.00" stroke="#222" stroke-width="1.0"/>
<text x="696.45" y="171.90" font-size="9.9" font-weight="normal" text-anchor="middle" fill="#2b2b2b" stroke="#2b2b2b" stroke-width="0.12" textLength="5.30" lengthAdjust="spacingAndGlyphs">3</text>
<line x1="715.00" y1="157.30" x2="715.00" y2="162.00" stroke="#222" stroke-width="1.0"/>
<text x="715.00" y="171.90" font-size="9.9" font-weight="normal" text-anchor="middle" fill="#2b2b2b" stroke="#2b2b2b" stroke-width="0.12" textLength="5.30" lengthAdjust="spacingAndGlyphs">4</text>
<line x1="733.55" y1="157.30" x2="733.55" y2="162.00" stroke="#222" stroke-width="1.0"/>
<text x="733.55" y="171.90" font-size="9.9" font-weight="normal" text-anchor="middle" fill="#2b2b2b" stroke="#2b2b2b" stroke-width="0.12" textLength="5.30" lengthAdjust="spacingAndGlyphs">5</text>
<line x1="752.10" y1="157.30" x2="752.10" y2="162.00" stroke="#222" stroke-width="1.0"/>
<text x="752.10" y="171.90" font-size="9.9" font-weight="normal" text-anchor="middle" fill="#2b2b2b" stroke="#2b2b2b" stroke-width="0.12" textLength="5.30" lengthAdjust="spacingAndGlyphs">6</text>
<line x1="770.65" y1="157.30" x2="770.65" y2="162.00" stroke="#222" stroke-width="1.0"/>
<text x="770.65" y="171.90" font-size="9.9" font-weight="normal" text-anchor="middle" fill="#2b2b2b" stroke="#2b2b2b" stroke-width="0.12" textLength="5.30" lengthAdjust="spacingAndGlyphs">7</text>
<line x1="789.20" y1="157.30" x2="789.20" y2="162.00" stroke="#222" stroke-width="1.0"/>
<text x="789.20" y="171.90" font-size="9.9" font-weight="normal" text-anchor="middle" fill="#2b2b2b" stroke="#2b2b2b" stroke-width="0.12" textLength="5.30" lengthAdjust="spacingAndGlyphs">8</text>
<line x1="807.75" y1="157.30" x2="807.75" y2="162.00" stroke="#222" stroke-width="1.0"/>
<text x="807.75" y="171.90" font-size="9.9" font-weight="normal" text-anchor="middle" fill="#2b2b2b" stroke="#2b2b2b" stroke-width="0.12" textLength="5.30" lengthAdjust="spacingAndGlyphs">9</text>
<line x1="826.30" y1="157.30" x2="826.30" y2="162.00" stroke="#222" stroke-width="1.0"/>
<text x="826.30" y="171.90" font-size="9.9" font-weight="normal" text-anchor="middle" fill="#2b2b2b" stroke="#2b2b2b" stroke-width="0.12" textLength="10.60" lengthAdjust="spacingAndGlyphs">10</text>
<line x1="844.85" y1="157.30" x2="844.85" y2="162.00" stroke="#222" stroke-width="1.0"/>
<text x="844.85" y="171.90" font-size="9.9" font-weight="normal" text-anchor="middle" fill="#2b2b2b" stroke="#2b2b2b" stroke-width="0.12" textLength="10.60" lengthAdjust="spacingAndGlyphs">11</text>
<line x1="863.40" y1="157.30" x2="863.40" y2="162.00" stroke="#222" stroke-width="1.0"/>
<text x="863.40" y="171.90" font-size="9.9" font-weight="normal" text-anchor="middle" fill="#2b2b2b" stroke="#2b2b2b" stroke-width="0.12" textLength="10.60" lengthAdjust="spacingAndGlyphs">12</text>
<line x1="640.30" y1="157.30" x2="863.90" y2="157.30" stroke="#222" stroke-width="1.1"/>
<path d="M640.80,154.51 H642.12 V153.95 H643.09 V153.53 H645.06 V152.68 H645.87 V152.33 H647.61 V151.82 H649.01 V151.54 H649.80 V151.38 H651.48 V151.04 H652.22 V150.89 H653.76 V150.57 H654.57 V150.41 H655.42 V150.24 H656.94 V149.94 H659.26 V149.49 H660.18 V149.31 H661.29 V149.09 H663.22 V148.71 H665.78 V148.33 H667.61 V148.07 H669.07 V147.86 H671.69 V147.49 H672.45 V147.40 H674.84 V147.40 H676.09 V147.40 H677.05 V147.40 H677.95 V147.40 H679.24 V147.40 H681.54 V147.40 H682.57 V147.40 H684.40 V147.40 H686.35 V147.40 H687.76 V147.40 H689.53 V147.40 H690.32 V147.40 H691.11 V147.40 H692.19 V147.40 H694.22 V147.40 H695.75 V147.40 H697.04 V147.40 H697.19 V145.54 H698.88 V145.39 H700.46 V145.26 H701.73 V145.15 H703.99 V144.95 H706.05 V144.77 H707.21 V144.67 H709.03 V144.52 H710.75 V144.37 H713.17 V144.16 H715.30 V143.98 H716.55 V143.87 H719.18 V143.63 H720.08 V143.53 H721.59 V143.36 H723.77 V143.12 H724.74 V143.01 H726.39 V142.83 H727.14 V142.74 H729.14 V142.52 H731.34 V142.28 H733.16 V142.07 H735.58 V141.81 H736.88 V141.68 H738.94 V141.49 H740.80 V141.31 H742.63 V141.14 H744.21 V140.99 H746.56 V140.76 H749.12 V140.52 H750.74 V140.38 H752.73 V140.21 H753.52 V140.14 H755.60 V139.97 H757.56 V139.80 H760.22 V139.57 H762.53 V139.37 H763.77 V139.26 H765.21 V139.14 H767.22 V138.96 H767.93 V138.90 H769.53 V138.76 H770.53 V138.66 H771.43 V138.57 H772.22 V138.48 H774.42 V138.25 H775.35 V138.15 H776.52 V138.02 H777.97 V137.87 H780.38 V137.61 H781.21 V137.52 H782.78 V137.35 H784.55 V137.16 H786.98 V136.90 H789.29 V136.65 H791.69 V136.23 H792.92 V135.97 H794.42 V135.65 H795.80 V135.36 H798.24 V134.84 H800.83 V134.29 H801.80 V134.08 H802.82 V133.87 H803.95 V133.63 H805.09 V133.38 H806.73 V133.03 H808.57 V132.64 H809.77 V132.41 H810.45 V132.29 H811.95 V132.02 H813.36 V131.77 H815.16 V131.45 H817.74 V130.99 H819.79 V130.68 H821.49 V130.68 H823.40 V130.68 H825.42 V130.68 H826.19 V130.68 H828.66 V130.68 H830.89 V130.68 H833.31 V130.68 H835.58 V130.68 H837.03 V130.68 H838.50 V130.68 H839.38 V130.68 H840.77 V128.21 H841.32 V128.21 H842.11 V128.23 H842.91 V128.24 H844.00 V128.25 H844.99 V128.26 H846.34 V128.28 H847.11 V128.29 H847.78 V128.30 H848.75 V128.32 H849.62 V128.33 H851.02 V128.35 H851.74 V128.36 H854.16 V128.39 H856.06 V128.42 H857.02 V128.43 H858.19 V128.45 H859.56 V128.46 H860.95 V128.48 H861.87 V128.50 H863.40 V128.52" fill="none" stroke="#5a789a" stroke-width="2.2" stroke-linejoin="miter" stroke-linecap="butt"/>
<path d="M640.80,154.51 H642.12 V153.95 H643.09 V153.53 H645.06 V152.68 H645.87 V152.33 H647.61 V151.82 H649.01 V151.54 H649.80 V151.38 H651.48 V151.04 H652.22 V150.89 H653.76 V150.57 H654.57 V150.41 H655.42 V150.24 H656.94 V149.94 H659.26 V149.49 H660.18 V149.31 H661.29 V149.09 H663.22 V148.71 H665.78 V148.33 H667.61 V148.07 H669.07 V147.86 H671.69 V147.49 H672.45 V147.40 H674.84 V147.40 H676.09 V147.40 H677.05 V147.40 H677.95 V147.40 H679.24 V147.40 H681.54 V147.40 H682.57 V147.40 H684.40 V147.40 H686.35 V147.40 H687.76 V147.40 H689.53 V147.40 H690.32 V147.40 H691.11 V147.40 H692.19 V147.40 H694.22 V147.40 H695.75 V147.40 H697.04 V147.40 H698.88 V147.40 H700.46 V147.40 H701.73 V147.40 H703.99 V147.40 H706.05 V147.40 H707.21 V147.40 H709.03 V146.47 H710.75 V145.77 H713.17 V145.51 H715.30 V145.28 H716.55 V145.15 H719.18 V144.89 H720.08 V144.82 H721.59 V144.71 H723.77 V144.54 H724.74 V144.47 H726.39 V144.35 H727.14 V144.30 H729.14 V144.15 H731.34 V143.98 H733.16 V143.85 H735.58 V143.64 H736.88 V143.33 H738.94 V142.84 H740.80 V142.40 H742.63 V141.96 H744.21 V141.58 H746.56 V141.02 H749.12 V140.52 H750.74 V140.38 H752.73 V140.21 H753.52 V140.14 H755.60 V139.97 H757.56 V139.80 H760.22 V139.57 H762.53 V139.37 H763.77 V139.26 H765.21 V139.14 H767.22 V138.96 H767.93 V138.90 H769.53 V138.76 H770.53 V138.67 H771.43 V138.59 H772.22 V138.51 H774.42 V138.30 H775.35 V138.21 H776.52 V138.10 H777.97 V137.97 H780.38 V137.74 H781.21 V137.66 H782.78 V137.51 H784.55 V137.34 H786.98 V137.05 H789.29 V136.77 H791.69 V136.47 H792.92 V136.32 H794.42 V136.14 H795.80 V135.96 H798.24 V135.66 H800.83 V135.50 H801.80 V135.44 H802.82 V135.38 H803.95 V135.31 H805.09 V135.25 H806.73 V135.15 H808.57 V135.04 H809.77 V135.02 H810.45 V135.02 H811.95 V135.02 H813.36 V135.02 H815.16 V135.02 H817.74 V135.02 H819.79 V135.02 H821.49 V135.02 H823.40 V135.02 H825.42 V135.02 H826.19 V135.02 H828.66 V135.02 H830.89 V135.02 H833.31 V135.02 H835.58 V135.02 H837.03 V135.02 H838.50 V135.02 H839.38 V135.02 H840.77 V133.78 H841.32 V133.77 H842.11 V133.76 H842.91 V133.75 H844.00 V133.73 H844.99 V133.72 H846.34 V133.70 H847.11 V133.69 H847.78 V133.68 H848.75 V133.67 H849.62 V133.66 H851.02 V133.64 H851.74 V133.63 H854.16 V133.59 H856.06 V133.57 H857.02 V133.56 H858.19 V133.54 H859.56 V133.52 H860.95 V133.50 H861.87 V133.49 H863.40 V133.47" fill="none" stroke="#9c5a52" stroke-width="2.2" stroke-linejoin="miter" stroke-linecap="butt"/>
<line x1="640.80" y1="33.50" x2="640.80" y2="161.80" stroke="#2a2a2a" stroke-width="1.2"/>
<text x="754.00" y="122.70" font-size="10.4" font-weight="normal" text-anchor="start" fill="#2b2b2b" stroke="#2b2b2b" stroke-width="0.22" textLength="109.80" lengthAdjust="spacingAndGlyphs">Zotarolimus-eluting stent</text>
<text x="730.80" y="153.60" font-size="10.4" font-weight="normal" text-anchor="start" fill="#2b2b2b" stroke="#2b2b2b" stroke-width="0.22" textLength="133.00" lengthAdjust="spacingAndGlyphs">Polymer-free drug-coated stent</text>
<text x="868.30" y="127.00" font-size="9.4" font-weight="normal" text-anchor="start" fill="#7590a6" stroke="#7590a6" stroke-width="0.1" textLength="12.90" lengthAdjust="spacingAndGlyphs">4.6</text>
<text x="868.30" y="139.70" font-size="9.4" font-weight="normal" text-anchor="start" fill="#a8665c" stroke="#a8665c" stroke-width="0.1" textLength="12.90" lengthAdjust="spacingAndGlyphs">3.9</text>
<text x="479.90" y="261.00" font-size="10" font-weight="bold" text-anchor="start" fill="#222" stroke="#222" stroke-width="0.12" textLength="50.00" lengthAdjust="spacingAndGlyphs">No. at Risk</text>
<text x="479.90" y="274.40" font-size="10" font-weight="normal" text-anchor="start" fill="#2b2b2b" stroke="#2b2b2b" stroke-width="0.22" textLength="85.00" lengthAdjust="spacingAndGlyphs">Zotarolimus-eluting</text>
<text x="490.00" y="285.70" font-size="10" font-weight="normal" text-anchor="start" fill="#2b2b2b" stroke="#2b2b2b" stroke-width="0.22" textLength="21.80" lengthAdjust="spacingAndGlyphs">stent</text>
<text x="479.90" y="298.30" font-size="10" font-weight="normal" text-anchor="start" fill="#2b2b2b" stroke="#2b2b2b" stroke-width="0.22" textLength="79.00" lengthAdjust="spacingAndGlyphs">Polymer-free drug-</text>
<text x="490.00" y="309.80" font-size="10" font-weight="normal" text-anchor="start" fill="#2b2b2b" stroke="#2b2b2b" stroke-width="0.22" textLength="52.60" lengthAdjust="spacingAndGlyphs">coated stent</text>
<text x="588.30" y="274.40" font-size="10.8" font-weight="normal" text-anchor="end" fill="#2b2b2b" stroke="#2b2b2b" stroke-width="0.22" textLength="20.60" lengthAdjust="spacingAndGlyphs">1003</text>
<text x="613.60" y="274.40" font-size="10.8" font-weight="normal" text-anchor="end" fill="#2b2b2b" stroke="#2b2b2b" stroke-width="0.22" textLength="15.45" lengthAdjust="spacingAndGlyphs">999</text>
<text x="751.60" y="274.40" font-size="10.8" font-weight="normal" text-anchor="end" fill="#2b2b2b" stroke="#2b2b2b" stroke-width="0.22" textLength="15.45" lengthAdjust="spacingAndGlyphs">949</text>
<text x="917.20" y="274.40" font-size="10.8" font-weight="normal" text-anchor="end" fill="#2b2b2b" stroke="#2b2b2b" stroke-width="0.22" textLength="15.45" lengthAdjust="spacingAndGlyphs">903</text>
<text x="588.30" y="298.30" font-size="10.8" font-weight="normal" text-anchor="end" fill="#2b2b2b" stroke="#2b2b2b" stroke-width="0.22" textLength="15.45" lengthAdjust="spacingAndGlyphs">993</text>
<text x="613.60" y="298.30" font-size="10.8" font-weight="normal" text-anchor="end" fill="#2b2b2b" stroke="#2b2b2b" stroke-width="0.22" textLength="15.45" lengthAdjust="spacingAndGlyphs">982</text>
<text x="751.60" y="298.30" font-size="10.8" font-weight="normal" text-anchor="end" fill="#2b2b2b" stroke="#2b2b2b" stroke-width="0.22" textLength="15.45" lengthAdjust="spacingAndGlyphs">940</text>
<text x="917.20" y="298.30" font-size="10.8" font-weight="normal" text-anchor="end" fill="#2b2b2b" stroke="#2b2b2b" stroke-width="0.22" textLength="15.45" lengthAdjust="spacingAndGlyphs">900</text>
<text x="9.00" y="339.60" font-size="11.5" font-weight="bold" text-anchor="start" fill="#222" stroke="#222" stroke-width="0.12">C</text>
<text x="24.80" y="339.60" font-size="10.1" font-weight="bold" text-anchor="start" fill="#222" stroke="#222" stroke-width="0.12" textLength="98.00" lengthAdjust="spacingAndGlyphs">Myocardial Infarction</text>
<line x1="113.40" y1="352.30" x2="113.40" y2="529.80" stroke="#1e1e1e" stroke-width="1.25"/>
<line x1="112.90" y1="529.30" x2="445.10" y2="529.30" stroke="#1e1e1e" stroke-width="1.25"/>
<line x1="109.00" y1="529.30" x2="113.40" y2="529.30" stroke="#222" stroke-width="1.0"/>
<text x="107.50" y="532.75" font-size="9.9" font-weight="normal" text-anchor="end" fill="#2b2b2b" stroke="#2b2b2b" stroke-width="0.12" textLength="5.30" lengthAdjust="spacingAndGlyphs">0</text>
<line x1="109.00" y1="511.60" x2="113.40" y2="511.60" stroke="#222" stroke-width="1.0"/>
<text x="107.50" y="515.05" font-size="9.9" font-weight="normal" text-anchor="end" fill="#2b2b2b" stroke="#2b2b2b" stroke-width="0.12" textLength="10.60" lengthAdjust="spacingAndGlyphs">10</text>
<line x1="109.00" y1="493.90" x2="113.40" y2="493.90" stroke="#222" stroke-width="1.0"/>
<text x="107.50" y="497.35" font-size="9.9" font-weight="normal" text-anchor="end" fill="#2b2b2b" stroke="#2b2b2b" stroke-width="0.12" textLength="10.60" lengthAdjust="spacingAndGlyphs">20</text>
<line x1="109.00" y1="476.20" x2="113.40" y2="476.20" stroke="#222" stroke-width="1.0"/>
<text x="107.50" y="479.65" font-size="9.9" font-weight="normal" text-anchor="end" fill="#2b2b2b" stroke="#2b2b2b" stroke-width="0.12" textLength="10.60" lengthAdjust="spacingAndGlyphs">30</text>
<line x1="109.00" y1="458.50" x2="113.40" y2="458.50" stroke="#222" stroke-width="1.0"/>
<text x="107.50" y="461.95" font-size="9.9" font-weight="normal" text-anchor="end" fill="#2b2b2b" stroke="#2b2b2b" stroke-width="0.12" textLength="10.60" lengthAdjust="spacingAndGlyphs">40</text>
<line x1="109.00" y1="440.80" x2="113.40" y2="440.80" stroke="#222" stroke-width="1.0"/>
<text x="107.50" y="444.25" font-size="9.9" font-weight="normal" text-anchor="end" fill="#2b2b2b" stroke="#2b2b2b" stroke-width="0.12" textLength="10.60" lengthAdjust="spacingAndGlyphs">50</text>
<line x1="109.00" y1="423.10" x2="113.40" y2="423.10" stroke="#222" stroke-width="1.0"/>
<text x="107.50" y="426.55" font-size="9.9" font-weight="normal" text-anchor="end" fill="#2b2b2b" stroke="#2b2b2b" stroke-width="0.12" textLength="10.60" lengthAdjust="spacingAndGlyphs">60</text>
<line x1="109.00" y1="405.40" x2="113.40" y2="405.40" stroke="#222" stroke-width="1.0"/>
<text x="107.50" y="408.85" font-size="9.9" font-weight="normal" text-anchor="end" fill="#2b2b2b" stroke="#2b2b2b" stroke-width="0.12" textLength="10.60" lengthAdjust="spacingAndGlyphs">70</text>
<line x1="109.00" y1="387.70" x2="113.40" y2="387.70" stroke="#222" stroke-width="1.0"/>
<text x="107.50" y="391.15" font-size="9.9" font-weight="normal" text-anchor="end" fill="#2b2b2b" stroke="#2b2b2b" stroke-width="0.12" textLength="10.60" lengthAdjust="spacingAndGlyphs">80</text>
<line x1="109.00" y1="370.00" x2="113.40" y2="370.00" stroke="#222" stroke-width="1.0"/>
<text x="107.50" y="373.45" font-size="9.9" font-weight="normal" text-anchor="end" fill="#2b2b2b" stroke="#2b2b2b" stroke-width="0.12" textLength="10.60" lengthAdjust="spacingAndGlyphs">90</text>
<line x1="109.00" y1="352.30" x2="113.40" y2="352.30" stroke="#222" stroke-width="1.0"/>
<text x="107.50" y="355.75" font-size="9.9" font-weight="normal" text-anchor="end" fill="#2b2b2b" stroke="#2b2b2b" stroke-width="0.12" textLength="15.90" lengthAdjust="spacingAndGlyphs">100</text>
<line x1="113.40" y1="529.30" x2="113.40" y2="534.00" stroke="#222" stroke-width="1.0"/>
<text x="113.40" y="543.90" font-size="9.9" font-weight="normal" text-anchor="middle" fill="#2b2b2b" stroke="#2b2b2b" stroke-width="0.12" textLength="5.30" lengthAdjust="spacingAndGlyphs">0</text>
<line x1="141.00" y1="529.30" x2="141.00" y2="534.00" stroke="#222" stroke-width="1.0"/>
<text x="141.00" y="543.90" font-size="9.9" font-weight="normal" text-anchor="middle" fill="#2b2b2b" stroke="#2b2b2b" stroke-width="0.12" textLength="5.30" lengthAdjust="spacingAndGlyphs">1</text>
<line x1="168.60" y1="529.30" x2="168.60" y2="534.00" stroke="#222" stroke-width="1.0"/>
<text x="168.60" y="543.90" font-size="9.9" font-weight="normal" text-anchor="middle" fill="#2b2b2b" stroke="#2b2b2b" stroke-width="0.12" textLength="5.30" lengthAdjust="spacingAndGlyphs">2</text>
<line x1="196.20" y1="529.30" x2="196.20" y2="534.00" stroke="#222" stroke-width="1.0"/>
<text x="196.20" y="543.90" font-size="9.9" font-weight="normal" text-anchor="middle" fill="#2b2b2b" stroke="#2b2b2b" stroke-width="0.12" textLength="5.30" lengthAdjust="spacingAndGlyphs">3</text>
<line x1="223.80" y1="529.30" x2="223.80" y2="534.00" stroke="#222" stroke-width="1.0"/>
<text x="223.80" y="543.90" font-size="9.9" font-weight="normal" text-anchor="middle" fill="#2b2b2b" stroke="#2b2b2b" stroke-width="0.12" textLength="5.30" lengthAdjust="spacingAndGlyphs">4</text>
<line x1="251.40" y1="529.30" x2="251.40" y2="534.00" stroke="#222" stroke-width="1.0"/>
<text x="251.40" y="543.90" font-size="9.9" font-weight="normal" text-anchor="middle" fill="#2b2b2b" stroke="#2b2b2b" stroke-width="0.12" textLength="5.30" lengthAdjust="spacingAndGlyphs">5</text>
<line x1="279.00" y1="529.30" x2="279.00" y2="534.00" stroke="#222" stroke-width="1.0"/>
<text x="279.00" y="543.90" font-size="9.9" font-weight="normal" text-anchor="middle" fill="#2b2b2b" stroke="#2b2b2b" stroke-width="0.12" textLength="5.30" lengthAdjust="spacingAndGlyphs">6</text>
<line x1="306.60" y1="529.30" x2="306.60" y2="534.00" stroke="#222" stroke-width="1.0"/>
<text x="306.60" y="543.90" font-size="9.9" font-weight="normal" text-anchor="middle" fill="#2b2b2b" stroke="#2b2b2b" stroke-width="0.12" textLength="5.30" lengthAdjust="spacingAndGlyphs">7</text>
<line x1="334.20" y1="529.30" x2="334.20" y2="534.00" stroke="#222" stroke-width="1.0"/>
<text x="334.20" y="543.90" font-size="9.9" font-weight="normal" text-anchor="middle" fill="#2b2b2b" stroke="#2b2b2b" stroke-width="0.12" textLength="5.30" lengthAdjust="spacingAndGlyphs">8</text>
<line x1="361.80" y1="529.30" x2="361.80" y2="534.00" stroke="#222" stroke-width="1.0"/>
<text x="361.80" y="543.90" font-size="9.9" font-weight="normal" text-anchor="middle" fill="#2b2b2b" stroke="#2b2b2b" stroke-width="0.12" textLength="5.30" lengthAdjust="spacingAndGlyphs">9</text>
<line x1="389.40" y1="529.30" x2="389.40" y2="534.00" stroke="#222" stroke-width="1.0"/>
<text x="389.40" y="543.90" font-size="9.9" font-weight="normal" text-anchor="middle" fill="#2b2b2b" stroke="#2b2b2b" stroke-width="0.12" textLength="10.60" lengthAdjust="spacingAndGlyphs">10</text>
<line x1="417.00" y1="529.30" x2="417.00" y2="534.00" stroke="#222" stroke-width="1.0"/>
<text x="417.00" y="543.90" font-size="9.9" font-weight="normal" text-anchor="middle" fill="#2b2b2b" stroke="#2b2b2b" stroke-width="0.12" textLength="10.60" lengthAdjust="spacingAndGlyphs">11</text>
<line x1="444.60" y1="529.30" x2="444.60" y2="534.00" stroke="#222" stroke-width="1.0"/>
<text x="444.60" y="543.90" font-size="9.9" font-weight="normal" text-anchor="middle" fill="#2b2b2b" stroke="#2b2b2b" stroke-width="0.12" textLength="10.60" lengthAdjust="spacingAndGlyphs">12</text>
<text x="0" y="0" font-size="10.4" font-weight="bold" fill="#222" stroke="#222" stroke-width="0.1" text-anchor="middle" textLength="138" lengthAdjust="spacingAndGlyphs" transform="translate(79.00,440.90) rotate(-90)">Percent of Patients with Event</text>
<text x="261.70" y="564.20" font-size="10" font-weight="bold" text-anchor="start" fill="#222" stroke="#222" stroke-width="0.12" textLength="35.00" lengthAdjust="spacingAndGlyphs">Months</text>
<path d="M113.40,513.19 H117.75 V512.74 H120.96 V512.41 H127.48 V511.97 H130.17 V511.86 H135.93 V511.62 H140.56 V511.42 H143.15 V511.31 H148.72 V511.08 H151.17 V511.02 H156.25 V510.92 H158.92 V510.86 H161.73 V510.80 H166.75 V510.80 H174.44 V510.80 H177.47 V510.80 H181.15 V510.80 H187.52 V510.80 H196.00 V510.73 H202.03 V510.56 H206.87 V510.42 H215.54 V510.26 H218.06 V510.24 H225.96 V510.20 H230.08 V510.15 H233.25 V510.00 H236.23 V509.86 H240.49 V509.67 H248.10 V509.32 H251.50 V509.16 H257.56 V508.88 H264.00 V508.59 H268.68 V508.40 H274.52 V508.16 H277.14 V508.06 H279.74 V508.01 H283.31 V507.95 H290.03 V507.84 H295.07 V507.75 H299.36 V507.68 H305.45 V507.57 H310.66 V507.48 H314.85 V507.37 H322.32 V507.08 H329.16 V506.82 H332.98 V506.68 H339.00 V506.55 H344.68 V506.53 H352.69 V506.51 H359.73 V506.49 H363.84 V506.48 H372.54 V506.37 H375.53 V506.32 H380.51 V506.23 H387.73 V506.10 H390.95 V506.04 H396.40 V505.94 H398.86 V505.91 H405.50 V505.85 H412.77 V505.78 H418.77 V505.72 H426.78 V505.65 H431.07 V505.61 H433.56 V505.14 H437.88 V505.17 H444.03 V505.22 H444.60 V505.23" fill="none" stroke="#6a6e84" stroke-width="2.2" stroke-linejoin="miter" stroke-linecap="butt"/>
<path d="M113.40,516.29 H117.75 V515.91 H120.96 V515.64 H127.48 V515.11 H130.17 V514.90 H135.93 V514.46 H140.56 V514.14 H143.15 V513.96 H148.72 V513.57 H151.17 V513.43 H156.25 V513.14 H158.92 V512.99 H161.73 V512.84 H166.75 V512.66 H174.44 V512.38 H177.47 V512.23 H181.15 V512.05 H187.52 V511.74 H196.00 V511.33 H202.03 V510.93 H206.87 V510.49 H215.54 V509.45 H218.06 V509.03 H225.96 V508.82 H230.08 V508.74 H233.25 V508.61 H236.23 V508.49 H240.49 V508.32 H248.10 V508.02 H251.50 V507.85 H257.56 V507.54 H264.00 V507.21 H268.68 V506.97 H274.52 V506.62 H277.14 V506.46 H279.74 V506.30 H283.31 V506.09 H290.03 V505.74 H295.07 V505.54 H299.36 V505.36 H305.45 V505.22 H310.66 V505.19 H314.85 V505.17 H322.32 V505.14 H329.16 V505.11 H332.98 V505.09 H339.00 V505.07 H344.68 V505.01 H352.69 V504.86 H359.73 V504.73 H363.84 V504.65 H372.54 V504.49 H375.53 V504.43 H380.51 V504.34 H387.73 V504.20 H390.95 V504.14 H396.40 V504.04 H398.86 V503.99 H405.50 V503.86 H412.77 V503.72 H418.77 V503.60 H426.78 V503.44 H431.07 V503.35 H437.88 V502.92 H444.03 V502.72 H444.60 V502.75" fill="none" stroke="#866163" stroke-width="2.2" stroke-linejoin="miter" stroke-linecap="butt"/>
<line x1="170.50" y1="479.30" x2="175.80" y2="479.30" stroke="#222" stroke-width="1.0"/>
<text x="169.80" y="481.80" font-size="9.9" font-weight="normal" text-anchor="end" fill="#2b2b2b" stroke="#2b2b2b" stroke-width="0.12" textLength="5.30" lengthAdjust="spacingAndGlyphs">0</text>
<line x1="170.50" y1="448.35" x2="175.80" y2="448.35" stroke="#222" stroke-width="1.0"/>
<text x="169.80" y="450.85" font-size="9.9" font-weight="normal" text-anchor="end" fill="#2b2b2b" stroke="#2b2b2b" stroke-width="0.12" textLength="5.30" lengthAdjust="spacingAndGlyphs">5</text>
<line x1="170.50" y1="417.40" x2="175.80" y2="417.40" stroke="#222" stroke-width="1.0"/>
<text x="169.80" y="419.90" font-size="9.9" font-weight="normal" text-anchor="end" fill="#2b2b2b" stroke="#2b2b2b" stroke-width="0.12" textLength="10.60" lengthAdjust="spacingAndGlyphs">10</text>
<line x1="170.50" y1="386.45" x2="175.80" y2="386.45" stroke="#222" stroke-width="1.0"/>
<text x="169.80" y="388.95" font-size="9.9" font-weight="normal" text-anchor="end" fill="#2b2b2b" stroke="#2b2b2b" stroke-width="0.12" textLength="10.60" lengthAdjust="spacingAndGlyphs">15</text>
<line x1="170.50" y1="355.50" x2="175.80" y2="355.50" stroke="#222" stroke-width="1.0"/>
<text x="169.80" y="358.00" font-size="9.9" font-weight="normal" text-anchor="end" fill="#2b2b2b" stroke="#2b2b2b" stroke-width="0.12" textLength="10.60" lengthAdjust="spacingAndGlyphs">20</text>
<line x1="175.80" y1="479.30" x2="175.80" y2="484.00" stroke="#222" stroke-width="1.0"/>
<text x="175.80" y="493.90" font-size="9.9" font-weight="normal" text-anchor="middle" fill="#2b2b2b" stroke="#2b2b2b" stroke-width="0.12" textLength="5.30" lengthAdjust="spacingAndGlyphs">0</text>
<line x1="194.35" y1="479.30" x2="194.35" y2="484.00" stroke="#222" stroke-width="1.0"/>
<text x="194.35" y="493.90" font-size="9.9" font-weight="normal" text-anchor="middle" fill="#2b2b2b" stroke="#2b2b2b" stroke-width="0.12" textLength="5.30" lengthAdjust="spacingAndGlyphs">1</text>
<line x1="212.90" y1="479.30" x2="212.90" y2="484.00" stroke="#222" stroke-width="1.0"/>
<text x="212.90" y="493.90" font-size="9.9" font-weight="normal" text-anchor="middle" fill="#2b2b2b" stroke="#2b2b2b" stroke-width="0.12" textLength="5.30" lengthAdjust="spacingAndGlyphs">2</text>
<line x1="231.45" y1="479.30" x2="231.45" y2="484.00" stroke="#222" stroke-width="1.0"/>
<text x="231.45" y="493.90" font-size="9.9" font-weight="normal" text-anchor="middle" fill="#2b2b2b" stroke="#2b2b2b" stroke-width="0.12" textLength="5.30" lengthAdjust="spacingAndGlyphs">3</text>
<line x1="250.00" y1="479.30" x2="250.00" y2="484.00" stroke="#222" stroke-width="1.0"/>
<text x="250.00" y="493.90" font-size="9.9" font-weight="normal" text-anchor="middle" fill="#2b2b2b" stroke="#2b2b2b" stroke-width="0.12" textLength="5.30" lengthAdjust="spacingAndGlyphs">4</text>
<line x1="268.55" y1="479.30" x2="268.55" y2="484.00" stroke="#222" stroke-width="1.0"/>
<text x="268.55" y="493.90" font-size="9.9" font-weight="normal" text-anchor="middle" fill="#2b2b2b" stroke="#2b2b2b" stroke-width="0.12" textLength="5.30" lengthAdjust="spacingAndGlyphs">5</text>
<line x1="287.10" y1="479.30" x2="287.10" y2="484.00" stroke="#222" stroke-width="1.0"/>
<text x="287.10" y="493.90" font-size="9.9" font-weight="normal" text-anchor="middle" fill="#2b2b2b" stroke="#2b2b2b" stroke-width="0.12" textLength="5.30" lengthAdjust="spacingAndGlyphs">6</text>
<line x1="305.65" y1="479.30" x2="305.65" y2="484.00" stroke="#222" stroke-width="1.0"/>
<text x="305.65" y="493.90" font-size="9.9" font-weight="normal" text-anchor="middle" fill="#2b2b2b" stroke="#2b2b2b" stroke-width="0.12" textLength="5.30" lengthAdjust="spacingAndGlyphs">7</text>
<line x1="324.20" y1="479.30" x2="324.20" y2="484.00" stroke="#222" stroke-width="1.0"/>
<text x="324.20" y="493.90" font-size="9.9" font-weight="normal" text-anchor="middle" fill="#2b2b2b" stroke="#2b2b2b" stroke-width="0.12" textLength="5.30" lengthAdjust="spacingAndGlyphs">8</text>
<line x1="342.75" y1="479.30" x2="342.75" y2="484.00" stroke="#222" stroke-width="1.0"/>
<text x="342.75" y="493.90" font-size="9.9" font-weight="normal" text-anchor="middle" fill="#2b2b2b" stroke="#2b2b2b" stroke-width="0.12" textLength="5.30" lengthAdjust="spacingAndGlyphs">9</text>
<line x1="361.30" y1="479.30" x2="361.30" y2="484.00" stroke="#222" stroke-width="1.0"/>
<text x="361.30" y="493.90" font-size="9.9" font-weight="normal" text-anchor="middle" fill="#2b2b2b" stroke="#2b2b2b" stroke-width="0.12" textLength="10.60" lengthAdjust="spacingAndGlyphs">10</text>
<line x1="379.85" y1="479.30" x2="379.85" y2="484.00" stroke="#222" stroke-width="1.0"/>
<text x="379.85" y="493.90" font-size="9.9" font-weight="normal" text-anchor="middle" fill="#2b2b2b" stroke="#2b2b2b" stroke-width="0.12" textLength="10.60" lengthAdjust="spacingAndGlyphs">11</text>
<line x1="398.40" y1="479.30" x2="398.40" y2="484.00" stroke="#222" stroke-width="1.0"/>
<text x="398.40" y="493.90" font-size="9.9" font-weight="normal" text-anchor="middle" fill="#2b2b2b" stroke="#2b2b2b" stroke-width="0.12" textLength="10.60" lengthAdjust="spacingAndGlyphs">12</text>
<line x1="175.30" y1="479.30" x2="398.90" y2="479.30" stroke="#222" stroke-width="1.1"/>
<path d="M175.80,422.97 H177.12 V422.26 H178.09 V421.73 H180.06 V420.67 H180.87 V420.23 H182.61 V419.28 H184.01 V418.96 H184.80 V418.79 H186.48 V418.43 H187.22 V418.26 H188.76 V417.93 H189.57 V417.75 H190.42 V417.57 H191.94 V417.24 H194.26 V416.73 H195.18 V416.53 H196.29 V416.29 H198.22 V415.87 H200.78 V415.43 H202.61 V415.23 H204.07 V415.07 H206.69 V414.79 H207.45 V414.70 H209.84 V414.61 H211.09 V414.61 H212.05 V414.61 H212.95 V414.61 H214.24 V414.61 H216.54 V414.61 H217.57 V414.61 H219.40 V414.61 H221.35 V414.61 H222.76 V414.61 H224.53 V414.61 H225.32 V414.61 H226.11 V414.61 H227.19 V414.61 H229.22 V414.61 H230.75 V414.45 H232.04 V414.25 H233.88 V413.98 H235.46 V413.75 H236.73 V413.56 H238.99 V413.23 H241.05 V412.93 H242.21 V412.76 H244.03 V412.71 H245.75 V412.66 H248.17 V412.60 H250.30 V412.54 H251.55 V412.51 H254.18 V412.34 H255.08 V412.12 H256.59 V411.76 H258.77 V411.23 H259.74 V411.00 H261.39 V410.60 H262.14 V410.42 H264.14 V409.94 H266.34 V409.41 H268.16 V408.97 H270.58 V408.39 H271.88 V408.08 H273.94 V407.59 H275.80 V407.14 H277.63 V406.76 H279.21 V406.42 H281.56 V405.92 H284.12 V405.38 H285.74 V405.03 H287.73 V404.85 H288.52 V404.78 H290.60 V404.59 H292.56 V404.41 H295.22 V404.17 H297.53 V403.97 H298.77 V403.85 H300.21 V403.73 H302.22 V403.55 H302.93 V403.48 H304.53 V403.34 H305.53 V403.25 H306.43 V403.17 H307.22 V403.10 H309.42 V402.90 H310.35 V402.77 H311.52 V402.54 H312.97 V402.25 H315.38 V401.77 H316.21 V401.60 H317.78 V401.29 H319.55 V400.94 H321.98 V400.46 H324.29 V400.00 H326.69 V399.74 H327.92 V399.72 H329.42 V399.70 H330.80 V399.68 H333.24 V399.64 H335.83 V399.61 H336.80 V399.59 H337.82 V399.58 H338.95 V399.56 H340.09 V399.54 H341.73 V399.52 H343.57 V399.49 H344.77 V399.47 H345.45 V399.46 H346.95 V399.40 H348.36 V399.27 H350.16 V399.10 H352.74 V398.86 H354.79 V398.66 H356.49 V398.50 H358.40 V398.32 H360.42 V398.13 H361.19 V398.06 H363.66 V397.82 H365.89 V397.61 H368.31 V397.48 H370.58 V397.37 H372.03 V397.30 H373.50 V397.22 H374.38 V397.18 H376.32 V397.08 H377.11 V397.04 H377.91 V397.00 H379.00 V396.95 H379.99 V396.90 H381.34 V396.83 H382.11 V396.80 H382.78 V396.76 H383.75 V396.71 H384.62 V396.67 H386.02 V396.60 H386.74 V396.57 H389.16 V396.44 H390.98 V394.81 H391.06 V394.81 H392.02 V394.85 H393.19 V394.90 H394.56 V394.96 H395.95 V395.01 H396.87 V395.05 H398.40 V395.12" fill="none" stroke="#5a789a" stroke-width="2.2" stroke-linejoin="miter" stroke-linecap="butt"/>
<path d="M175.80,433.80 H177.12 V433.21 H178.09 V432.77 H180.06 V431.88 H180.87 V431.52 H182.61 V430.73 H184.01 V430.17 H184.80 V429.86 H186.48 V429.19 H187.22 V428.89 H188.76 V428.28 H189.57 V427.95 H190.42 V427.61 H191.94 V427.04 H194.26 V426.19 H195.18 V425.86 H196.29 V425.46 H198.22 V424.76 H200.78 V423.90 H202.61 V423.37 H204.07 V422.95 H206.69 V422.19 H207.45 V421.97 H209.84 V421.44 H211.09 V421.21 H212.05 V421.03 H212.95 V420.86 H214.24 V420.63 H216.54 V420.20 H217.57 V419.94 H219.40 V419.48 H221.35 V418.98 H222.76 V418.62 H224.53 V418.17 H225.32 V417.97 H226.11 V417.77 H227.19 V417.50 H229.22 V416.98 H230.75 V416.60 H232.04 V416.27 H233.88 V415.75 H235.46 V415.01 H236.73 V414.41 H238.99 V413.35 H241.05 V412.37 H242.21 V411.83 H244.03 V410.24 H245.75 V408.75 H248.17 V407.97 H250.30 V407.79 H251.55 V407.68 H254.18 V407.40 H255.08 V407.21 H256.59 V406.90 H258.77 V406.44 H259.74 V406.24 H261.39 V405.89 H262.14 V405.74 H264.14 V405.32 H266.34 V404.86 H268.16 V404.42 H270.58 V403.78 H271.88 V403.43 H273.94 V402.88 H275.80 V402.39 H277.63 V401.90 H279.21 V401.48 H281.56 V400.77 H284.12 V399.97 H285.74 V399.46 H287.73 V398.83 H288.52 V398.58 H290.60 V397.93 H292.56 V397.32 H295.22 V396.75 H297.53 V396.27 H298.77 V396.01 H300.21 V395.71 H302.22 V395.29 H302.93 V395.14 H304.53 V395.08 H305.53 V395.06 H306.43 V395.04 H307.22 V395.02 H309.42 V394.97 H310.35 V394.95 H311.52 V394.92 H312.97 V394.89 H315.38 V394.83 H316.21 V394.81 H317.78 V394.77 H319.55 V394.73 H321.98 V394.68 H324.29 V394.62 H326.69 V394.57 H327.92 V394.54 H329.42 V394.51 H330.80 V394.40 H333.24 V394.16 H335.83 V393.90 H336.80 V393.81 H337.82 V393.71 H338.95 V393.60 H340.09 V393.49 H341.73 V393.33 H343.57 V393.15 H344.77 V393.03 H345.45 V392.97 H346.95 V392.82 H348.36 V392.68 H350.16 V392.50 H352.74 V392.25 H354.79 V392.05 H356.49 V391.89 H358.40 V391.70 H360.42 V391.50 H361.19 V391.43 H363.66 V391.19 H365.89 V390.97 H368.31 V390.73 H370.58 V390.49 H372.03 V390.34 H373.50 V390.19 H374.38 V390.10 H376.32 V389.90 H377.11 V389.82 H377.91 V389.74 H379.00 V389.62 H379.99 V389.52 H381.34 V389.38 H382.11 V389.30 H382.78 V389.23 H383.75 V389.13 H384.62 V389.04 H386.02 V388.90 H386.74 V388.82 H389.16 V388.57 H391.06 V388.38 H392.02 V388.13 H393.19 V387.45 H394.56 V386.66 H395.95 V385.85 H396.87 V386.06 H398.40 V386.45" fill="none" stroke="#9c5a52" stroke-width="2.2" stroke-linejoin="miter" stroke-linecap="butt"/>
<line x1="175.80" y1="355.50" x2="175.80" y2="483.80" stroke="#8a8a8a" stroke-width="1.7"/>
<text x="265.00" y="383.30" font-size="10.4" font-weight="normal" text-anchor="start" fill="#2b2b2b" stroke="#2b2b2b" stroke-width="0.22" textLength="133.00" lengthAdjust="spacingAndGlyphs">Polymer-free drug-coated stent</text>
<text x="288.30" y="416.50" font-size="10.4" font-weight="normal" text-anchor="start" fill="#2b2b2b" stroke="#2b2b2b" stroke-width="0.22" textLength="109.70" lengthAdjust="spacingAndGlyphs">Zotarolimus-eluting stent</text>
<text x="404.00" y="386.70" font-size="9.4" font-weight="normal" text-anchor="start" fill="#a8665c" stroke="#a8665c" stroke-width="0.1" textLength="17.00" lengthAdjust="spacingAndGlyphs">15.0</text>
<text x="404.00" y="400.30" font-size="9.4" font-weight="normal" text-anchor="start" fill="#7590a6" stroke="#7590a6" stroke-width="0.1" textLength="17.00" lengthAdjust="spacingAndGlyphs">13.5</text>
<text x="14.90" y="583.00" font-size="10" font-weight="bold" text-anchor="start" fill="#222" stroke="#222" stroke-width="0.12" textLength="50.00" lengthAdjust="spacingAndGlyphs">No. at Risk</text>
<text x="14.90" y="596.40" font-size="10" font-weight="normal" text-anchor="start" fill="#2b2b2b" stroke="#2b2b2b" stroke-width="0.22" textLength="85.00" lengthAdjust="spacingAndGlyphs">Zotarolimus-eluting</text>
<text x="25.00" y="607.70" font-size="10" font-weight="normal" text-anchor="start" fill="#2b2b2b" stroke="#2b2b2b" stroke-width="0.22" textLength="21.80" lengthAdjust="spacingAndGlyphs">stent</text>
<text x="14.90" y="620.30" font-size="10" font-weight="normal" text-anchor="start" fill="#2b2b2b" stroke="#2b2b2b" stroke-width="0.22" textLength="79.00" lengthAdjust="spacingAndGlyphs">Polymer-free drug-</text>
<text x="25.00" y="631.80" font-size="10" font-weight="normal" text-anchor="start" fill="#2b2b2b" stroke="#2b2b2b" stroke-width="0.22" textLength="52.60" lengthAdjust="spacingAndGlyphs">coated stent</text>
<text x="123.30" y="596.40" font-size="10.8" font-weight="normal" text-anchor="end" fill="#2b2b2b" stroke="#2b2b2b" stroke-width="0.22" textLength="20.60" lengthAdjust="spacingAndGlyphs">1003</text>
<text x="148.60" y="596.40" font-size="10.8" font-weight="normal" text-anchor="end" fill="#2b2b2b" stroke="#2b2b2b" stroke-width="0.22" textLength="15.45" lengthAdjust="spacingAndGlyphs">955</text>
<text x="286.60" y="596.40" font-size="10.8" font-weight="normal" text-anchor="end" fill="#2b2b2b" stroke="#2b2b2b" stroke-width="0.22" textLength="15.45" lengthAdjust="spacingAndGlyphs">845</text>
<text x="452.20" y="596.40" font-size="10.8" font-weight="normal" text-anchor="end" fill="#2b2b2b" stroke="#2b2b2b" stroke-width="0.22" textLength="15.45" lengthAdjust="spacingAndGlyphs">791</text>
<text x="123.30" y="620.30" font-size="10.8" font-weight="normal" text-anchor="end" fill="#2b2b2b" stroke="#2b2b2b" stroke-width="0.22" textLength="15.45" lengthAdjust="spacingAndGlyphs">993</text>
<text x="148.60" y="620.30" font-size="10.8" font-weight="normal" text-anchor="end" fill="#2b2b2b" stroke="#2b2b2b" stroke-width="0.22" textLength="15.45" lengthAdjust="spacingAndGlyphs">950</text>
<text x="286.60" y="620.30" font-size="10.8" font-weight="normal" text-anchor="end" fill="#2b2b2b" stroke="#2b2b2b" stroke-width="0.22" textLength="15.45" lengthAdjust="spacingAndGlyphs">834</text>
<text x="452.20" y="620.30" font-size="10.8" font-weight="normal" text-anchor="end" fill="#2b2b2b" stroke="#2b2b2b" stroke-width="0.22" textLength="15.45" lengthAdjust="spacingAndGlyphs">782</text>
<text x="473.20" y="339.60" font-size="11.5" font-weight="bold" text-anchor="start" fill="#222" stroke="#222" stroke-width="0.12">D</text>
<text x="489.80" y="339.60" font-size="10.1" font-weight="bold" text-anchor="start" fill="#222" stroke="#222" stroke-width="0.12" textLength="82.20" lengthAdjust="spacingAndGlyphs">Stent Thrombosis</text>
<line x1="578.40" y1="352.30" x2="578.40" y2="529.80" stroke="#1e1e1e" stroke-width="1.25"/>
<line x1="577.90" y1="529.30" x2="910.10" y2="529.30" stroke="#1e1e1e" stroke-width="1.25"/>
<line x1="574.00" y1="529.30" x2="578.40" y2="529.30" stroke="#222" stroke-width="1.0"/>
<text x="572.50" y="532.75" font-size="9.9" font-weight="normal" text-anchor="end" fill="#2b2b2b" stroke="#2b2b2b" stroke-width="0.12" textLength="5.30" lengthAdjust="spacingAndGlyphs">0</text>
<line x1="574.00" y1="511.60" x2="578.40" y2="511.60" stroke="#222" stroke-width="1.0"/>
<text x="572.50" y="515.05" font-size="9.9" font-weight="normal" text-anchor="end" fill="#2b2b2b" stroke="#2b2b2b" stroke-width="0.12" textLength="10.60" lengthAdjust="spacingAndGlyphs">10</text>
<line x1="574.00" y1="493.90" x2="578.40" y2="493.90" stroke="#222" stroke-width="1.0"/>
<text x="572.50" y="497.35" font-size="9.9" font-weight="normal" text-anchor="end" fill="#2b2b2b" stroke="#2b2b2b" stroke-width="0.12" textLength="10.60" lengthAdjust="spacingAndGlyphs">20</text>
<line x1="574.00" y1="476.20" x2="578.40" y2="476.20" stroke="#222" stroke-width="1.0"/>
<text x="572.50" y="479.65" font-size="9.9" font-weight="normal" text-anchor="end" fill="#2b2b2b" stroke="#2b2b2b" stroke-width="0.12" textLength="10.60" lengthAdjust="spacingAndGlyphs">30</text>
<line x1="574.00" y1="458.50" x2="578.40" y2="458.50" stroke="#222" stroke-width="1.0"/>
<text x="572.50" y="461.95" font-size="9.9" font-weight="normal" text-anchor="end" fill="#2b2b2b" stroke="#2b2b2b" stroke-width="0.12" textLength="10.60" lengthAdjust="spacingAndGlyphs">40</text>
<line x1="574.00" y1="440.80" x2="578.40" y2="440.80" stroke="#222" stroke-width="1.0"/>
<text x="572.50" y="444.25" font-size="9.9" font-weight="normal" text-anchor="end" fill="#2b2b2b" stroke="#2b2b2b" stroke-width="0.12" textLength="10.60" lengthAdjust="spacingAndGlyphs">50</text>
<line x1="574.00" y1="423.10" x2="578.40" y2="423.10" stroke="#222" stroke-width="1.0"/>
<text x="572.50" y="426.55" font-size="9.9" font-weight="normal" text-anchor="end" fill="#2b2b2b" stroke="#2b2b2b" stroke-width="0.12" textLength="10.60" lengthAdjust="spacingAndGlyphs">60</text>
<line x1="574.00" y1="405.40" x2="578.40" y2="405.40" stroke="#222" stroke-width="1.0"/>
<text x="572.50" y="408.85" font-size="9.9" font-weight="normal" text-anchor="end" fill="#2b2b2b" stroke="#2b2b2b" stroke-width="0.12" textLength="10.60" lengthAdjust="spacingAndGlyphs">70</text>
<line x1="574.00" y1="387.70" x2="578.40" y2="387.70" stroke="#222" stroke-width="1.0"/>
<text x="572.50" y="391.15" font-size="9.9" font-weight="normal" text-anchor="end" fill="#2b2b2b" stroke="#2b2b2b" stroke-width="0.12" textLength="10.60" lengthAdjust="spacingAndGlyphs">80</text>
<line x1="574.00" y1="370.00" x2="578.40" y2="370.00" stroke="#222" stroke-width="1.0"/>
<text x="572.50" y="373.45" font-size="9.9" font-weight="normal" text-anchor="end" fill="#2b2b2b" stroke="#2b2b2b" stroke-width="0.12" textLength="10.60" lengthAdjust="spacingAndGlyphs">90</text>
<line x1="574.00" y1="352.30" x2="578.40" y2="352.30" stroke="#222" stroke-width="1.0"/>
<text x="572.50" y="355.75" font-size="9.9" font-weight="normal" text-anchor="end" fill="#2b2b2b" stroke="#2b2b2b" stroke-width="0.12" textLength="15.90" lengthAdjust="spacingAndGlyphs">100</text>
<line x1="578.40" y1="529.30" x2="578.40" y2="534.00" stroke="#222" stroke-width="1.0"/>
<text x="578.40" y="543.90" font-size="9.9" font-weight="normal" text-anchor="middle" fill="#2b2b2b" stroke="#2b2b2b" stroke-width="0.12" textLength="5.30" lengthAdjust="spacingAndGlyphs">0</text>
<line x1="606.00" y1="529.30" x2="606.00" y2="534.00" stroke="#222" stroke-width="1.0"/>
<text x="606.00" y="543.90" font-size="9.9" font-weight="normal" text-anchor="middle" fill="#2b2b2b" stroke="#2b2b2b" stroke-width="0.12" textLength="5.30" lengthAdjust="spacingAndGlyphs">1</text>
<line x1="633.60" y1="529.30" x2="633.60" y2="534.00" stroke="#222" stroke-width="1.0"/>
<text x="633.60" y="543.90" font-size="9.9" font-weight="normal" text-anchor="middle" fill="#2b2b2b" stroke="#2b2b2b" stroke-width="0.12" textLength="5.30" lengthAdjust="spacingAndGlyphs">2</text>
<line x1="661.20" y1="529.30" x2="661.20" y2="534.00" stroke="#222" stroke-width="1.0"/>
<text x="661.20" y="543.90" font-size="9.9" font-weight="normal" text-anchor="middle" fill="#2b2b2b" stroke="#2b2b2b" stroke-width="0.12" textLength="5.30" lengthAdjust="spacingAndGlyphs">3</text>
<line x1="688.80" y1="529.30" x2="688.80" y2="534.00" stroke="#222" stroke-width="1.0"/>
<text x="688.80" y="543.90" font-size="9.9" font-weight="normal" text-anchor="middle" fill="#2b2b2b" stroke="#2b2b2b" stroke-width="0.12" textLength="5.30" lengthAdjust="spacingAndGlyphs">4</text>
<line x1="716.40" y1="529.30" x2="716.40" y2="534.00" stroke="#222" stroke-width="1.0"/>
<text x="716.40" y="543.90" font-size="9.9" font-weight="normal" text-anchor="middle" fill="#2b2b2b" stroke="#2b2b2b" stroke-width="0.12" textLength="5.30" lengthAdjust="spacingAndGlyphs">5</text>
<line x1="744.00" y1="529.30" x2="744.00" y2="534.00" stroke="#222" stroke-width="1.0"/>
<text x="744.00" y="543.90" font-size="9.9" font-weight="normal" text-anchor="middle" fill="#2b2b2b" stroke="#2b2b2b" stroke-width="0.12" textLength="5.30" lengthAdjust="spacingAndGlyphs">6</text>
<line x1="771.60" y1="529.30" x2="771.60" y2="534.00" stroke="#222" stroke-width="1.0"/>
<text x="771.60" y="543.90" font-size="9.9" font-weight="normal" text-anchor="middle" fill="#2b2b2b" stroke="#2b2b2b" stroke-width="0.12" textLength="5.30" lengthAdjust="spacingAndGlyphs">7</text>
<line x1="799.20" y1="529.30" x2="799.20" y2="534.00" stroke="#222" stroke-width="1.0"/>
<text x="799.20" y="543.90" font-size="9.9" font-weight="normal" text-anchor="middle" fill="#2b2b2b" stroke="#2b2b2b" stroke-width="0.12" textLength="5.30" lengthAdjust="spacingAndGlyphs">8</text>
<line x1="826.80" y1="529.30" x2="826.80" y2="534.00" stroke="#222" stroke-width="1.0"/>
<text x="826.80" y="543.90" font-size="9.9" font-weight="normal" text-anchor="middle" fill="#2b2b2b" stroke="#2b2b2b" stroke-width="0.12" textLength="5.30" lengthAdjust="spacingAndGlyphs">9</text>
<line x1="854.40" y1="529.30" x2="854.40" y2="534.00" stroke="#222" stroke-width="1.0"/>
<text x="854.40" y="543.90" font-size="9.9" font-weight="normal" text-anchor="middle" fill="#2b2b2b" stroke="#2b2b2b" stroke-width="0.12" textLength="10.60" lengthAdjust="spacingAndGlyphs">10</text>
<line x1="882.00" y1="529.30" x2="882.00" y2="534.00" stroke="#222" stroke-width="1.0"/>
<text x="882.00" y="543.90" font-size="9.9" font-weight="normal" text-anchor="middle" fill="#2b2b2b" stroke="#2b2b2b" stroke-width="0.12" textLength="10.60" lengthAdjust="spacingAndGlyphs">11</text>
<line x1="909.60" y1="529.30" x2="909.60" y2="534.00" stroke="#222" stroke-width="1.0"/>
<text x="909.60" y="543.90" font-size="9.9" font-weight="normal" text-anchor="middle" fill="#2b2b2b" stroke="#2b2b2b" stroke-width="0.12" textLength="10.60" lengthAdjust="spacingAndGlyphs">12</text>
<text x="0" y="0" font-size="10.4" font-weight="bold" fill="#222" stroke="#222" stroke-width="0.1" text-anchor="middle" textLength="138" lengthAdjust="spacingAndGlyphs" transform="translate(544.00,440.90) rotate(-90)">Percent of Patients with Event</text>
<text x="726.70" y="564.20" font-size="10" font-weight="bold" text-anchor="start" fill="#222" stroke="#222" stroke-width="0.12" textLength="35.00" lengthAdjust="spacingAndGlyphs">Months</text>
<path d="M578.40,529.21 H582.75 V528.64 H585.96 V528.47 H592.48 V528.20 H595.17 V528.15 H600.93 V528.15 H605.56 V528.14 H608.15 V528.14 H613.72 V528.14 H616.17 V528.14 H621.25 V528.13 H623.92 V528.13 H626.73 V528.13 H631.75 V528.13 H639.44 V528.12 H642.47 V528.12 H646.15 V528.12 H652.52 V528.11 H661.00 V528.11 H667.03 V528.11 H671.87 V528.10 H680.54 V528.10 H683.06 V528.10 H683.28 V527.74 H690.96 V527.74 H695.08 V527.74 H698.25 V527.74 H701.23 V527.74 H705.49 V527.74 H713.10 V527.74 H715.30 V527.39 H716.50 V527.39 H722.56 V527.38 H729.00 V527.38 H733.68 V527.37 H739.52 V527.37 H742.14 V527.36 H744.74 V527.36 H748.31 V527.36 H755.03 V527.35 H760.07 V527.35 H764.36 V527.34 H770.45 V527.34 H775.66 V527.33 H779.85 V527.33 H787.32 V527.32 H794.16 V527.32 H797.98 V527.31 H804.00 V527.31 H809.68 V527.30 H817.69 V527.30 H824.73 V527.29 H828.84 V527.29 H837.54 V527.28 H840.53 V527.28 H845.51 V527.27 H852.73 V527.26 H855.95 V527.26 H861.40 V527.26 H863.86 V527.25 H870.50 V527.25 H877.77 V527.24 H883.77 V527.24 H891.78 V527.22 H896.07 V526.91 H902.88 V526.49 H909.03 V526.39 H909.60 V526.38" fill="none" stroke="#6a6e84" stroke-width="2.2" stroke-linejoin="miter" stroke-linecap="butt"/>
<path d="M578.40,528.41 H582.75 V527.51 H585.96 V527.31 H592.48 V527.01 H595.17 V526.89 H600.93 V526.75 H605.56 V526.64 H608.15 V526.64 H613.72 V526.64 H616.17 V526.64 H621.25 V526.64 H623.92 V526.64 H626.73 V526.64 H631.75 V526.64 H639.44 V526.64 H642.47 V526.64 H646.15 V526.64 H652.52 V526.29 H661.00 V526.08 H667.03 V526.08 H671.87 V526.08 H680.54 V526.08 H683.06 V526.08 H690.96 V526.08 H695.08 V526.08 H698.25 V526.08 H701.23 V526.08 H705.49 V526.08 H713.10 V526.08 H716.50 V526.08 H718.88 V525.81 H722.56 V525.81 H729.00 V525.81 H733.68 V525.80 H739.52 V525.80 H742.14 V525.79 H744.74 V525.79 H748.31 V525.79 H755.03 V525.78 H760.07 V525.78 H764.36 V525.78 H770.45 V525.77 H775.66 V525.77 H779.85 V525.77 H787.32 V525.76 H794.16 V525.75 H797.98 V525.75 H804.00 V525.75 H809.68 V525.74 H817.69 V525.74 H824.73 V525.73 H828.84 V525.73 H837.54 V525.72 H840.53 V525.72 H845.51 V525.71 H852.73 V525.71 H855.95 V525.71 H861.40 V525.70 H863.86 V525.70 H870.50 V525.69 H877.77 V525.69 H883.77 V525.68 H891.78 V525.68 H896.07 V525.67 H902.88 V525.23 H909.03 V525.39 H909.60 V525.41" fill="none" stroke="#866163" stroke-width="2.2" stroke-linejoin="miter" stroke-linecap="butt"/>
<line x1="635.50" y1="479.30" x2="640.80" y2="479.30" stroke="#222" stroke-width="1.0"/>
<text x="634.80" y="481.80" font-size="9.9" font-weight="normal" text-anchor="end" fill="#2b2b2b" stroke="#2b2b2b" stroke-width="0.12" textLength="5.30" lengthAdjust="spacingAndGlyphs">0</text>
<line x1="635.50" y1="448.35" x2="640.80" y2="448.35" stroke="#222" stroke-width="1.0"/>
<text x="634.80" y="450.85" font-size="9.9" font-weight="normal" text-anchor="end" fill="#2b2b2b" stroke="#2b2b2b" stroke-width="0.12" textLength="5.30" lengthAdjust="spacingAndGlyphs">5</text>
<line x1="635.50" y1="417.40" x2="640.80" y2="417.40" stroke="#222" stroke-width="1.0"/>
<text x="634.80" y="419.90" font-size="9.9" font-weight="normal" text-anchor="end" fill="#2b2b2b" stroke="#2b2b2b" stroke-width="0.12" textLength="10.60" lengthAdjust="spacingAndGlyphs">10</text>
<line x1="635.50" y1="386.45" x2="640.80" y2="386.45" stroke="#222" stroke-width="1.0"/>
<text x="634.80" y="388.95" font-size="9.9" font-weight="normal" text-anchor="end" fill="#2b2b2b" stroke="#2b2b2b" stroke-width="0.12" textLength="10.60" lengthAdjust="spacingAndGlyphs">15</text>
<line x1="635.50" y1="355.50" x2="640.80" y2="355.50" stroke="#222" stroke-width="1.0"/>
<text x="634.80" y="358.00" font-size="9.9" font-weight="normal" text-anchor="end" fill="#2b2b2b" stroke="#2b2b2b" stroke-width="0.12" textLength="10.60" lengthAdjust="spacingAndGlyphs">20</text>
<line x1="640.80" y1="479.30" x2="640.80" y2="484.00" stroke="#222" stroke-width="1.0"/>
<text x="640.80" y="493.90" font-size="9.9" font-weight="normal" text-anchor="middle" fill="#2b2b2b" stroke="#2b2b2b" stroke-width="0.12" textLength="5.30" lengthAdjust="spacingAndGlyphs">0</text>
<line x1="659.35" y1="479.30" x2="659.35" y2="484.00" stroke="#222" stroke-width="1.0"/>
<text x="659.35" y="493.90" font-size="9.9" font-weight="normal" text-anchor="middle" fill="#2b2b2b" stroke="#2b2b2b" stroke-width="0.12" textLength="5.30" lengthAdjust="spacingAndGlyphs">1</text>
<line x1="677.90" y1="479.30" x2="677.90" y2="484.00" stroke="#222" stroke-width="1.0"/>
<text x="677.90" y="493.90" font-size="9.9" font-weight="normal" text-anchor="middle" fill="#2b2b2b" stroke="#2b2b2b" stroke-width="0.12" textLength="5.30" lengthAdjust="spacingAndGlyphs">2</text>
<line x1="696.45" y1="479.30" x2="696.45" y2="484.00" stroke="#222" stroke-width="1.0"/>
<text x="696.45" y="493.90" font-size="9.9" font-weight="normal" text-anchor="middle" fill="#2b2b2b" stroke="#2b2b2b" stroke-width="0.12" textLength="5.30" lengthAdjust="spacingAndGlyphs">3</text>
<line x1="715.00" y1="479.30" x2="715.00" y2="484.00" stroke="#222" stroke-width="1.0"/>
<text x="715.00" y="493.90" font-size="9.9" font-weight="normal" text-anchor="middle" fill="#2b2b2b" stroke="#2b2b2b" stroke-width="0.12" textLength="5.30" lengthAdjust="spacingAndGlyphs">4</text>
<line x1="733.55" y1="479.30" x2="733.55" y2="484.00" stroke="#222" stroke-width="1.0"/>
<text x="733.55" y="493.90" font-size="9.9" font-weight="normal" text-anchor="middle" fill="#2b2b2b" stroke="#2b2b2b" stroke-width="0.12" textLength="5.30" lengthAdjust="spacingAndGlyphs">5</text>
<line x1="752.10" y1="479.30" x2="752.10" y2="484.00" stroke="#222" stroke-width="1.0"/>
<text x="752.10" y="493.90" font-size="9.9" font-weight="normal" text-anchor="middle" fill="#2b2b2b" stroke="#2b2b2b" stroke-width="0.12" textLength="5.30" lengthAdjust="spacingAndGlyphs">6</text>
<line x1="770.65" y1="479.30" x2="770.65" y2="484.00" stroke="#222" stroke-width="1.0"/>
<text x="770.65" y="493.90" font-size="9.9" font-weight="normal" text-anchor="middle" fill="#2b2b2b" stroke="#2b2b2b" stroke-width="0.12" textLength="5.30" lengthAdjust="spacingAndGlyphs">7</text>
<line x1="789.20" y1="479.30" x2="789.20" y2="484.00" stroke="#222" stroke-width="1.0"/>
<text x="789.20" y="493.90" font-size="9.9" font-weight="normal" text-anchor="middle" fill="#2b2b2b" stroke="#2b2b2b" stroke-width="0.12" textLength="5.30" lengthAdjust="spacingAndGlyphs">8</text>
<line x1="807.75" y1="479.30" x2="807.75" y2="484.00" stroke="#222" stroke-width="1.0"/>
<text x="807.75" y="493.90" font-size="9.9" font-weight="normal" text-anchor="middle" fill="#2b2b2b" stroke="#2b2b2b" stroke-width="0.12" textLength="5.30" lengthAdjust="spacingAndGlyphs">9</text>
<line x1="826.30" y1="479.30" x2="826.30" y2="484.00" stroke="#222" stroke-width="1.0"/>
<text x="826.30" y="493.90" font-size="9.9" font-weight="normal" text-anchor="middle" fill="#2b2b2b" stroke="#2b2b2b" stroke-width="0.12" textLength="10.60" lengthAdjust="spacingAndGlyphs">10</text>
<line x1="844.85" y1="479.30" x2="844.85" y2="484.00" stroke="#222" stroke-width="1.0"/>
<text x="844.85" y="493.90" font-size="9.9" font-weight="normal" text-anchor="middle" fill="#2b2b2b" stroke="#2b2b2b" stroke-width="0.12" textLength="10.60" lengthAdjust="spacingAndGlyphs">11</text>
<line x1="863.40" y1="479.30" x2="863.40" y2="484.00" stroke="#222" stroke-width="1.0"/>
<text x="863.40" y="493.90" font-size="9.9" font-weight="normal" text-anchor="middle" fill="#2b2b2b" stroke="#2b2b2b" stroke-width="0.12" textLength="10.60" lengthAdjust="spacingAndGlyphs">12</text>
<line x1="640.30" y1="479.30" x2="863.90" y2="479.30" stroke="#222" stroke-width="1.1"/>
<path d="M640.80,478.99 H642.12 V478.09 H643.09 V477.42 H645.06 V476.58 H645.87 V476.40 H647.61 V476.02 H649.01 V475.71 H649.80 V475.54 H651.48 V475.28 H652.22 V475.27 H653.76 V475.27 H654.57 V475.27 H655.42 V475.26 H656.94 V475.26 H659.26 V475.25 H660.18 V475.25 H661.29 V475.24 H663.22 V475.24 H665.78 V475.23 H667.61 V475.23 H669.07 V475.22 H671.69 V475.21 H672.45 V475.21 H674.84 V475.20 H676.09 V475.20 H677.05 V475.20 H677.95 V475.19 H679.24 V475.19 H681.54 V475.18 H682.57 V475.18 H684.40 V475.17 H686.35 V475.17 H687.76 V475.16 H689.53 V475.16 H690.32 V475.16 H691.11 V475.15 H692.19 V475.15 H694.22 V475.14 H695.75 V475.14 H697.04 V475.13 H698.88 V475.13 H700.46 V475.12 H701.73 V475.12 H703.99 V475.11 H706.05 V475.11 H707.21 V475.10 H709.03 V475.10 H710.75 V475.09 H711.29 V473.85 H713.17 V473.85 H715.30 V473.85 H716.55 V473.85 H719.18 V473.85 H720.08 V473.85 H721.59 V473.85 H723.77 V473.85 H724.74 V473.85 H726.39 V473.85 H727.14 V473.85 H729.14 V473.85 H731.34 V473.85 H732.81 V472.61 H733.16 V472.61 H735.58 V472.60 H736.88 V472.60 H738.94 V472.59 H740.80 V472.58 H742.63 V472.57 H744.21 V472.56 H746.56 V472.55 H749.12 V472.54 H750.74 V472.53 H752.73 V472.52 H753.52 V472.52 H755.60 V472.51 H757.56 V472.50 H760.22 V472.49 H762.53 V472.48 H763.77 V472.47 H765.21 V472.46 H767.22 V472.45 H767.93 V472.45 H769.53 V472.44 H770.53 V472.44 H771.43 V472.43 H772.22 V472.43 H774.42 V472.42 H775.35 V472.41 H776.52 V472.41 H777.97 V472.40 H780.38 V472.39 H781.21 V472.39 H782.78 V472.38 H784.55 V472.37 H786.98 V472.36 H789.29 V472.35 H791.69 V472.34 H792.92 V472.33 H794.42 V472.33 H795.80 V472.32 H798.24 V472.31 H800.83 V472.30 H801.80 V472.29 H802.82 V472.29 H803.95 V472.28 H805.09 V472.28 H806.73 V472.27 H808.57 V472.26 H809.77 V472.25 H810.45 V472.25 H811.95 V472.24 H813.36 V472.24 H815.16 V472.23 H817.74 V472.22 H819.79 V472.21 H821.49 V472.20 H823.40 V472.19 H825.42 V472.18 H826.19 V472.18 H828.66 V472.16 H830.89 V472.15 H833.31 V472.14 H835.58 V472.13 H837.03 V472.12 H838.50 V472.12 H839.38 V472.11 H841.32 V472.10 H842.11 V472.10 H842.91 V472.10 H844.00 V472.09 H844.99 V472.09 H846.34 V472.08 H847.11 V472.08 H847.78 V472.07 H848.75 V472.07 H849.62 V472.07 H851.02 V472.06 H851.74 V471.91 H854.16 V470.98 H856.06 V470.26 H857.02 V469.89 H858.19 V469.55 H859.56 V469.43 H860.95 V469.30 H861.87 V469.22 H863.40 V469.09" fill="none" stroke="#5a789a" stroke-width="2.2" stroke-linejoin="miter" stroke-linecap="butt"/>
<path d="M640.80,476.20 H642.12 V474.78 H643.09 V473.74 H645.06 V472.54 H645.87 V472.35 H647.61 V471.93 H649.01 V471.60 H649.80 V471.41 H651.48 V471.01 H652.22 V470.84 H653.76 V470.64 H654.57 V470.54 H655.42 V470.43 H656.94 V470.25 H659.26 V470.01 H660.18 V470.01 H661.29 V470.01 H663.22 V470.01 H665.78 V470.01 H667.61 V470.01 H669.07 V470.01 H671.69 V470.01 H672.45 V470.01 H674.84 V470.01 H676.09 V470.01 H677.05 V470.01 H677.95 V470.01 H679.24 V470.01 H681.54 V470.01 H682.57 V470.01 H684.40 V470.01 H686.35 V470.01 H687.76 V470.00 H689.53 V469.24 H690.32 V468.90 H691.11 V468.62 H692.19 V468.47 H694.22 V468.19 H695.75 V468.03 H697.04 V468.03 H698.88 V468.03 H700.46 V468.03 H701.73 V468.03 H703.99 V468.03 H706.05 V468.03 H707.21 V468.03 H709.03 V468.03 H710.75 V468.03 H713.17 V468.03 H715.30 V468.03 H716.55 V468.03 H719.18 V468.03 H720.08 V468.03 H721.59 V468.03 H723.77 V468.03 H724.74 V468.03 H726.39 V468.03 H727.14 V468.03 H729.14 V468.03 H731.34 V468.03 H733.16 V468.03 H735.22 V467.11 H735.58 V467.10 H736.88 V467.10 H738.94 V467.09 H740.80 V467.08 H742.63 V467.08 H744.21 V467.07 H746.56 V467.06 H749.12 V467.05 H750.74 V467.04 H752.73 V467.03 H753.52 V467.03 H755.60 V467.02 H757.56 V467.01 H760.22 V467.00 H762.53 V466.99 H763.77 V466.99 H765.21 V466.98 H767.22 V466.97 H767.93 V466.97 H769.53 V466.97 H770.53 V466.96 H771.43 V466.96 H772.22 V466.95 H774.42 V466.94 H775.35 V466.94 H776.52 V466.94 H777.97 V466.93 H780.38 V466.92 H781.21 V466.92 H782.78 V466.91 H784.55 V466.90 H786.98 V466.89 H789.29 V466.88 H791.69 V466.87 H792.92 V466.87 H794.42 V466.86 H795.80 V466.86 H798.24 V466.85 H800.83 V466.84 H801.80 V466.83 H802.82 V466.83 H803.95 V466.82 H805.09 V466.82 H806.73 V466.81 H808.57 V466.80 H809.77 V466.80 H810.45 V466.80 H811.95 V466.79 H813.36 V466.79 H815.16 V466.78 H817.74 V466.77 H819.79 V466.76 H821.49 V466.75 H823.40 V466.74 H825.42 V466.74 H826.19 V466.73 H828.66 V466.72 H830.89 V466.71 H833.31 V466.70 H835.58 V466.69 H837.03 V466.69 H838.50 V466.68 H839.38 V466.68 H841.32 V466.67 H842.11 V466.67 H842.91 V466.66 H844.00 V466.66 H844.99 V466.66 H846.34 V466.65 H847.11 V466.65 H847.78 V466.64 H848.75 V466.64 H849.62 V466.64 H851.02 V466.63 H851.74 V466.63 H854.16 V466.62 H856.06 V466.57 H857.02 V466.03 H858.19 V465.38 H859.56 V465.17 H860.95 V465.36 H861.87 V465.48 H863.40 V465.68" fill="none" stroke="#9c5a52" stroke-width="2.2" stroke-linejoin="miter" stroke-linecap="butt"/>
<line x1="640.80" y1="355.50" x2="640.80" y2="483.80" stroke="#2a2a2a" stroke-width="1.2"/>
<text x="653.00" y="421.00" font-size="10.4" font-weight="normal" text-anchor="start" fill="#2b2b2b" stroke="#2b2b2b" stroke-width="0.22" textLength="110.30" lengthAdjust="spacingAndGlyphs">Zotarolimus-eluting stent</text>
<line x1="674.00" y1="424.00" x2="723.30" y2="473.40" stroke="#1a1a1a" stroke-width="1.25"/>
<text x="731.00" y="462.30" font-size="10.4" font-weight="normal" text-anchor="start" fill="#2b2b2b" stroke="#2b2b2b" stroke-width="0.22" textLength="133.00" lengthAdjust="spacingAndGlyphs">Polymer-free drug-coated stent</text>
<text x="868.60" y="464.80" font-size="9.4" font-weight="normal" text-anchor="start" fill="#a8665c" stroke="#a8665c" stroke-width="0.1" textLength="12.90" lengthAdjust="spacingAndGlyphs">2.2</text>
<text x="868.60" y="475.50" font-size="9.4" font-weight="normal" text-anchor="start" fill="#7590a6" stroke="#7590a6" stroke-width="0.1" textLength="12.90" lengthAdjust="spacingAndGlyphs">1.5</text>
<text x="479.90" y="583.00" font-size="10" font-weight="bold" text-anchor="start" fill="#222" stroke="#222" stroke-width="0.12" textLength="50.00" lengthAdjust="spacingAndGlyphs">No. at Risk</text>
<text x="479.90" y="596.40" font-size="10" font-weight="normal" text-anchor="start" fill="#2b2b2b" stroke="#2b2b2b" stroke-width="0.22" textLength="85.00" lengthAdjust="spacingAndGlyphs">Zotarolimus-eluting</text>
<text x="490.00" y="607.70" font-size="10" font-weight="normal" text-anchor="start" fill="#2b2b2b" stroke="#2b2b2b" stroke-width="0.22" textLength="21.80" lengthAdjust="spacingAndGlyphs">stent</text>
<text x="479.90" y="620.30" font-size="10" font-weight="normal" text-anchor="start" fill="#2b2b2b" stroke="#2b2b2b" stroke-width="0.22" textLength="79.00" lengthAdjust="spacingAndGlyphs">Polymer-free drug-</text>
<text x="490.00" y="631.80" font-size="10" font-weight="normal" text-anchor="start" fill="#2b2b2b" stroke="#2b2b2b" stroke-width="0.22" textLength="52.60" lengthAdjust="spacingAndGlyphs">coated stent</text>
<text x="588.30" y="596.40" font-size="10.8" font-weight="normal" text-anchor="end" fill="#2b2b2b" stroke="#2b2b2b" stroke-width="0.22" textLength="20.60" lengthAdjust="spacingAndGlyphs">1003</text>
<text x="613.60" y="596.40" font-size="10.8" font-weight="normal" text-anchor="end" fill="#2b2b2b" stroke="#2b2b2b" stroke-width="0.22" textLength="15.45" lengthAdjust="spacingAndGlyphs">997</text>
<text x="751.60" y="596.40" font-size="10.8" font-weight="normal" text-anchor="end" fill="#2b2b2b" stroke="#2b2b2b" stroke-width="0.22" textLength="15.45" lengthAdjust="spacingAndGlyphs">945</text>
<text x="917.20" y="596.40" font-size="10.8" font-weight="normal" text-anchor="end" fill="#2b2b2b" stroke="#2b2b2b" stroke-width="0.22" textLength="15.45" lengthAdjust="spacingAndGlyphs">897</text>
<text x="588.30" y="620.30" font-size="10.8" font-weight="normal" text-anchor="end" fill="#2b2b2b" stroke="#2b2b2b" stroke-width="0.22" textLength="15.45" lengthAdjust="spacingAndGlyphs">993</text>
<text x="613.60" y="620.30" font-size="10.8" font-weight="normal" text-anchor="end" fill="#2b2b2b" stroke="#2b2b2b" stroke-width="0.22" textLength="15.45" lengthAdjust="spacingAndGlyphs">980</text>
<text x="751.60" y="620.30" font-size="10.8" font-weight="normal" text-anchor="end" fill="#2b2b2b" stroke="#2b2b2b" stroke-width="0.22" textLength="15.45" lengthAdjust="spacingAndGlyphs">931</text>
<text x="917.20" y="620.30" font-size="10.8" font-weight="normal" text-anchor="end" fill="#2b2b2b" stroke="#2b2b2b" stroke-width="0.22" textLength="15.45" lengthAdjust="spacingAndGlyphs">891</text>
<text x="11.60" y="662.70" font-size="10.5" font-weight="bold" text-anchor="start" fill="#8c3d45" stroke="#8c3d45" stroke-width="0.12" textLength="43.00" lengthAdjust="spacingAndGlyphs">Figure 1.</text>
<text x="58.70" y="662.70" font-size="10.6" font-weight="bold" text-anchor="start" fill="#2a2a2a" stroke="#2a2a2a" stroke-width="0.12" textLength="420.50" lengthAdjust="spacingAndGlyphs">Kaplan–Meier Time-to-Event Curves for the Primary Outcome and Its Components.</text>
<text x="11.60" y="680.70" font-size="10.8" font-weight="normal" text-anchor="start" fill="#333" stroke="#333" stroke-width="0.08" textLength="872.40" lengthAdjust="spacingAndGlyphs">Data for patients who were lost to follow-up or withdrew from the trial before 1 year were censored at the end of follow-up. Insets show the same data on an enlarged y axis.</text>
</svg>
</body></html>
